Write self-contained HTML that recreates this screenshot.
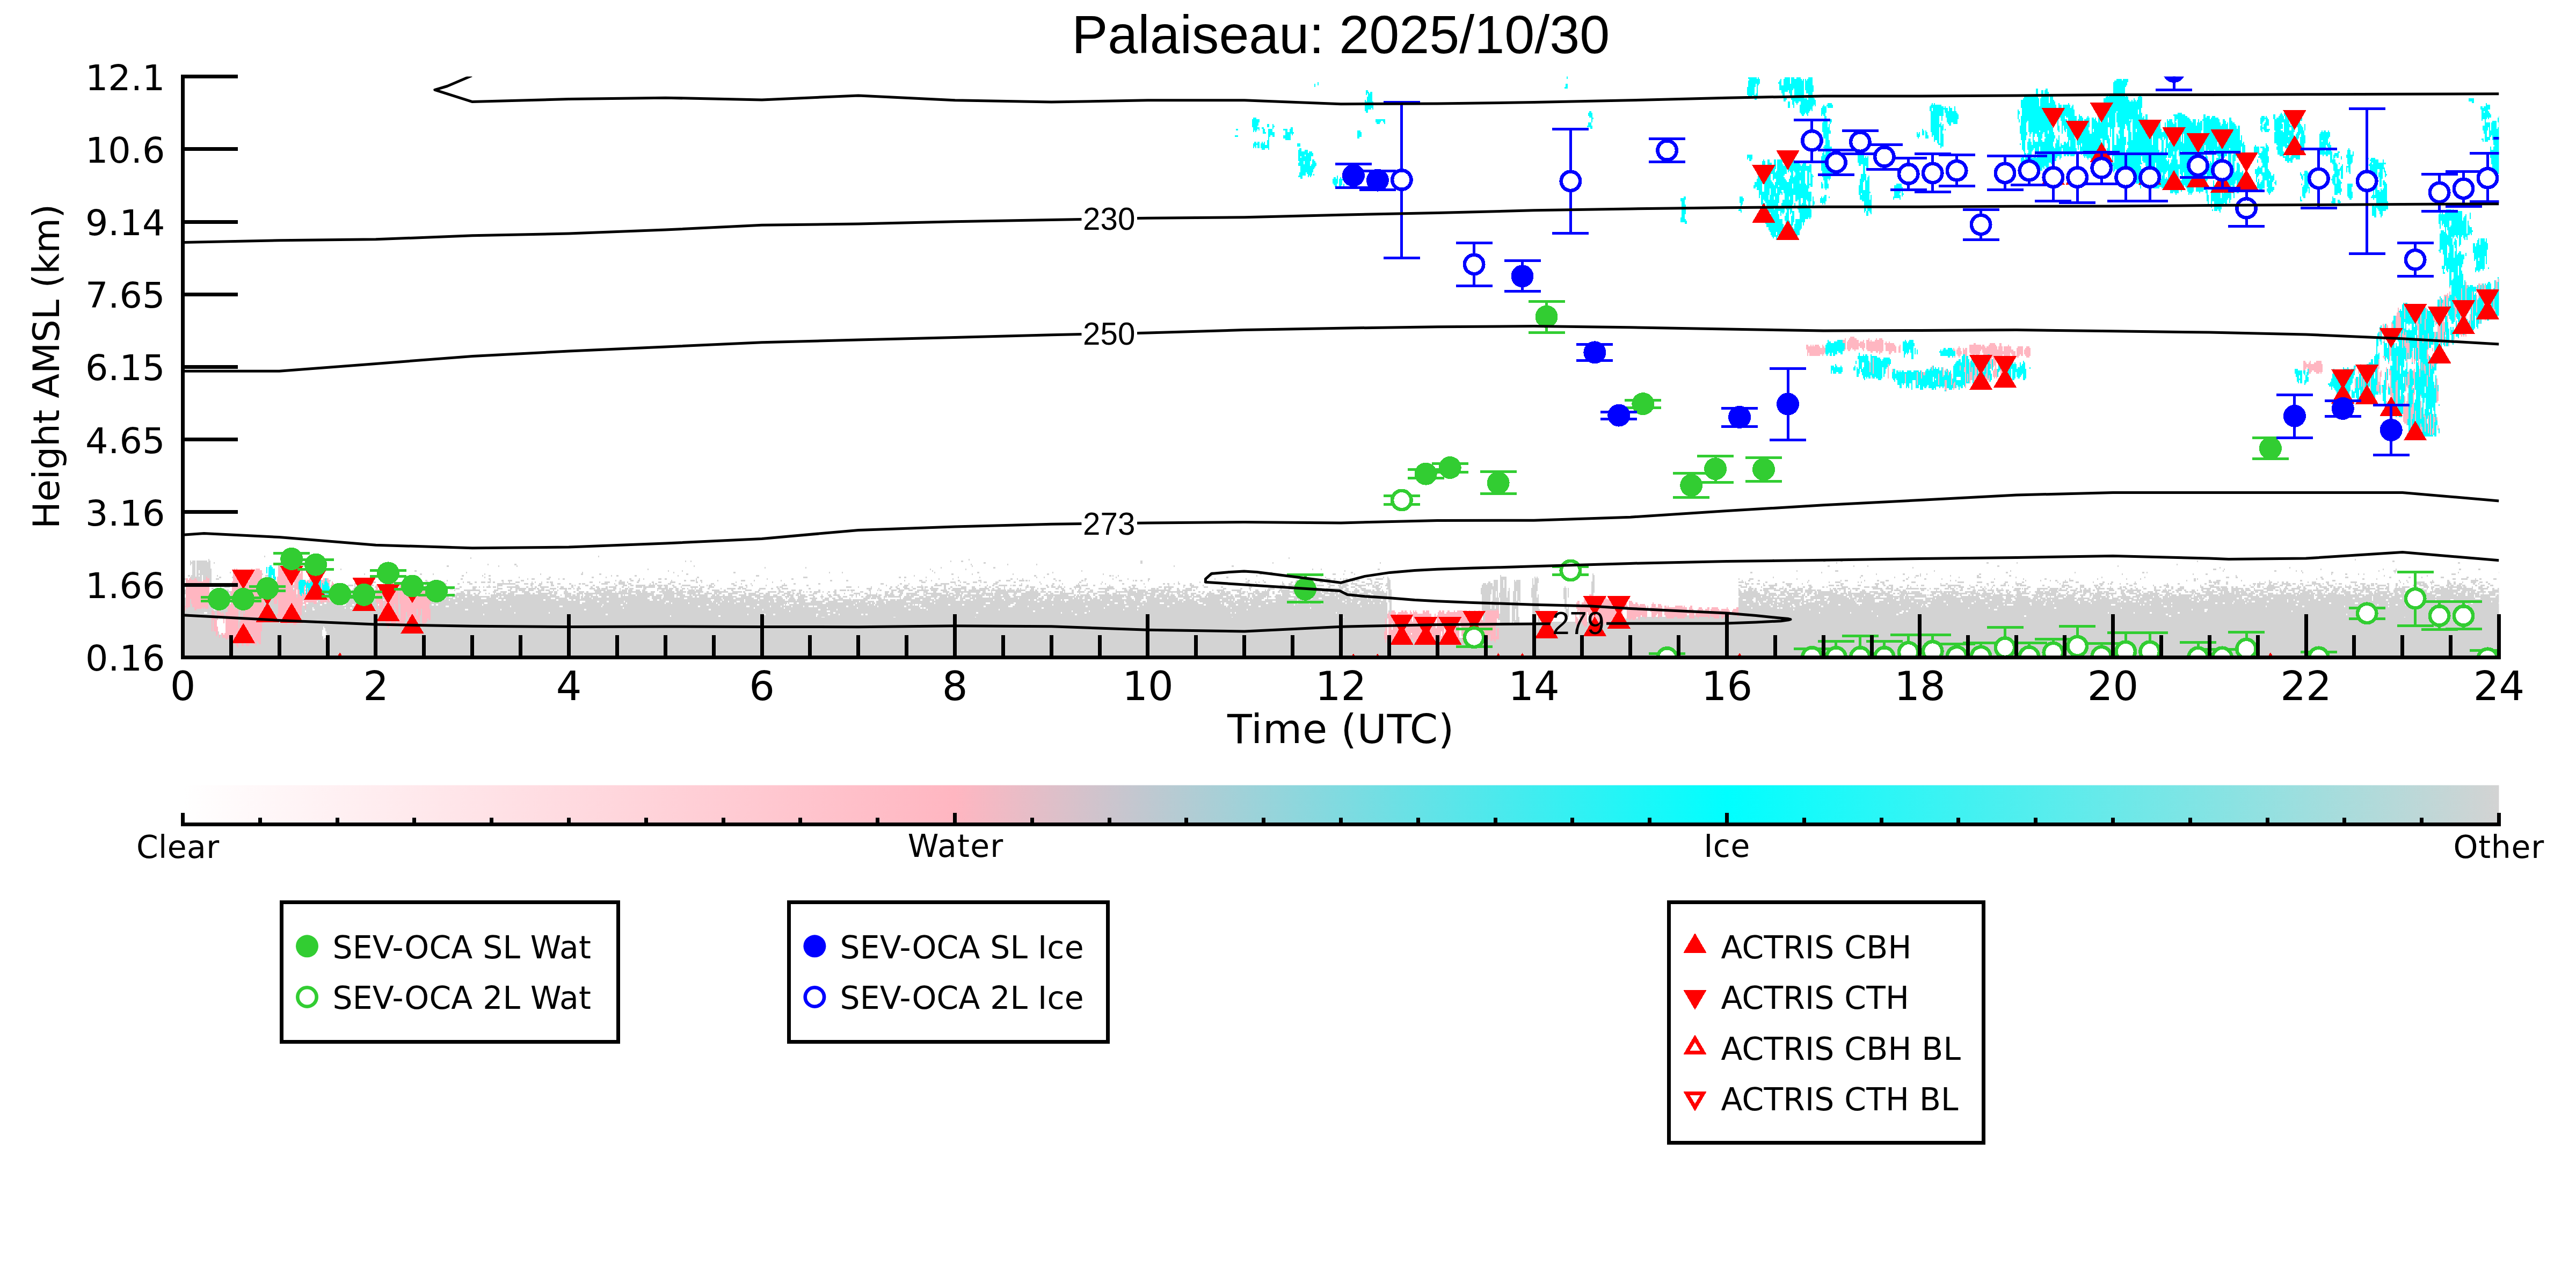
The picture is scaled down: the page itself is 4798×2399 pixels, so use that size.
<!DOCTYPE html>
<html lang="en"><head><meta charset="utf-8"><title>Palaiseau: 2025/10/30</title>
<style>html,body{margin:0;padding:0;background:#fff}svg{display:block}.dj{font-family:"DejaVu Sans","Liberation Sans",sans-serif}.lb{font-family:"Liberation Sans","DejaVu Sans",sans-serif}</style></head><body>
<svg width="4798" height="2399" viewBox="0 0 4798 2399">
<defs>
<clipPath id="ax"><rect x="340.5" y="142.5" width="4314" height="1082"/></clipPath>
<linearGradient id="cb" x1="0" x2="1" y1="0" y2="0"><stop offset="0" stop-color="#ffffff"/><stop offset="0.3333" stop-color="#ffb6c1"/><stop offset="0.6667" stop-color="#00ffff"/><stop offset="1" stop-color="#d3d3d3"/></linearGradient>

</defs>
<rect width="4798" height="2399" fill="#fff"/>
<g clip-path="url(#ax)" shape-rendering="crispEdges">
<path fill="#d3d3d3" d="M340 1150H2584V1222H340ZM3238 1150H4655V1222H3238Z"/>
<g transform="translate(340 142.5) scale(2 3)" fill="none" stroke-width="1">
<path stroke="#d3d3d3" d="M76 298h1m310 0h1M99 299h2m167 0h1m761 0h1M24 300h1m707 0h1m748 0h1m20 0h1m520 0h1M7 301h1m1 0h3m1 0h10m1 0h2m442 0h1m4 0h1m241 0h1m9 0h2m165 0h2m556 0h1m77 0h2m14 0h2m330 0h1m181 0h2M7 302h5m1 0h13m3 0h1m716 0h2m144 0h2m121 0h1m99 0h1m424 0h1m139 0h2m26 0h1m410 0h2M7 303h1m1 0h3m1 0h13m258 0h1m24 0h2m423 0h1m33 0h1m26 0h1m1061 0h1M9 304h3m1 0h13m220 0h2m46 0h1m16 0h1m164 0h1m258 0h1m187 0h1m53 0h2m553 0h2m22 0h1m12 0h1m120 0h2m110 0h1M9 305h3m1 0h13m516 0h1m37 0h1m125 0h1m48 0h2m854 0h1m285 0h1m64 0h1M9 306h3m1 0h14m120 0h1m285 0h1m262 0h1m32 0h1m322 0h1m7 0h1m52 0h2m776 0h3m7 0h1m89 0h1m57 0h1m11 0h1m58 0h2m16 0h2M9 307h3m1 0h2m1 0h11m167 0h1m21 0h2m234 0h1m12 0h1m232 0h1m138 0h1m244 0h1m420 0h1m35 0h3m89 0h1m70 0h1m197 0h1m47 0h2m18 0h1m4 0h1m71 0h1m13 0h3M9 308h3m1 0h2m1 0h11m17 0h1m17 0h1m66 0h1m134 0h1m107 0h1m84 0h1m55 0h2m87 0h1m11 0h1m85 0h1m39 0h2m68 0h1m147 0h2m53 0h2m73 0h2m370 0h2m64 0h1m171 0h2m62 0h1m62 0h2m2 0h1m144 0h1m26 0h2m57 0h1m58 0h1m37 0h1M9 309h3m1 0h14m47 0h1m94 0h1m24 0h1m26 0h2m10 0h1m47 0h1m51 0h1m37 0h2m15 0h2m79 0h2m245 0h2m17 0h1m37 0h1m31 0h2m50 0h1m145 0h2m66 0h3m7 0h1m9 0h1m221 0h1m263 0h1m24 0h2m14 0h1m5 0h1m48 0h2m131 0h1m65 0h1m11 0h2m115 0h1m12 0h2m10 0h1m4 0h1m81 0h4M5 310h2m1 0h4m1 0h2m1 0h2m1 0h8m5 0h1m44 0h3m45 0h2m133 0h2m17 0h1m5 0h2m112 0h1m4 0h2m15 0h2m38 0h1m72 0h3m144 0h1m111 0h2m68 0h2m1 0h1m4 0h1m86 0h1m41 0h1m59 0h1m41 0h1m124 0h1m85 0h2m248 0h2m49 0h3m1 0h1m27 0h1m24 0h2m28 0h2m209 0h1m137 0h1m39 0h1M7 311h11m1 0h3m1 0h4m7 0h2m10 0h1m6 0h1m227 0h1m31 0h1m27 0h2m38 0h2m11 0h1m84 0h2m97 0h4m85 0h2m3 0h2m18 0h1m29 0h1m19 0h1m52 0h1m6 0h1m66 0h1m102 0h2m90 0h1m53 0h1m3 0h1m104 0h6m26 0h1m1 0h1m51 0h2m166 0h1m80 0h1m31 0h1m12 0h1m5 0h1m40 0h1m16 0h4m32 0h1m79 0h1m39 0h1m75 0h3m6 0h2m77 0h2m21 0h3m38 0h2m16 0h2m10 0h1m17 0h3m21 0h2M0 312h3m5 0h3m2 0h5m1 0h3m3 0h2m4 0h3m18 0h2m25 0h1m129 0h2m48 0h2m24 0h2m34 0h1m3 0h3m11 0h3m8 0h1m3 0h2m60 0h2m7 0h1m3 0h1m13 0h3m3 0h2m27 0h1m65 0h1m22 0h2m135 0h1m12 0h1m53 0h2m4 0h1m4 0h1m28 0h2m27 0h2m24 0h1m13 0h1m18 0h2m60 0h1m28 0h1m74 0h4m3 0h2m4 0h1m2 0h1m1 0h2m2 0h1m15 0h4m4 0h7m4 0h2m103 0h6m24 0h1m1 0h4m50 0h2m134 0h1m9 0h4m40 0h1m101 0h2m15 0h2m14 0h1m48 0h1m26 0h1m19 0h2m21 0h1m25 0h1m26 0h1m12 0h1m49 0h2m1 0h1m110 0h1m4 0h2m36 0h2m11 0h1m70 0h3m5 0h6m7 0h1m3 0h2m11 0h3M14 313h4m7 0h2m76 0h1m33 0h1m24 0h1m32 0h1m24 0h2m4 0h2m18 0h1m39 0h1m10 0h2m4 0h4m8 0h3m85 0h1m3 0h2m8 0h3m4 0h2m29 0h1m11 0h2m4 0h4m1 0h1m3 0h2m14 0h1m21 0h4m8 0h1m24 0h1m45 0h2m13 0h2m52 0h1m13 0h3m3 0h1m4 0h1m24 0h2m17 0h3m16 0h2m5 0h4m8 0h5m1 0h2m1 0h1m24 0h1m2 0h2m19 0h2m1 0h1m31 0h3m10 0h1m1 0h2m3 0h2m5 0h1m92 0h2m12 0h1m30 0h2m16 0h2m15 0h1m8 0h1m7 0h3m1 0h3m10 0h2m14 0h3m96 0h4m2 0h3m1 0h2m7 0h1m1 0h4m11 0h1m1 0h4m50 0h2m137 0h1m5 0h2m7 0h2m45 0h1m29 0h1m3 0h3m15 0h1m11 0h2m6 0h3m13 0h2m42 0h1m4 0h1m64 0h1m13 0h1m8 0h1m4 0h2m7 0h1m3 0h4m105 0h1m6 0h2m12 0h2m5 0h4m19 0h1m25 0h1m28 0h2m28 0h3m59 0h1m6 0h1m23 0h1m13 0h2m20 0h7M25 314h2m48 0h5m94 0h6m16 0h1m22 0h5m3 0h2m1 0h2m6 0h1m4 0h1m17 0h1m3 0h3m4 0h2m4 0h4m2 0h3m2 0h2m7 0h1m5 0h1m5 0h4m11 0h1m2 0h1m5 0h1m4 0h2m1 0h3m34 0h3m6 0h1m4 0h5m8 0h6m2 0h1m8 0h2m12 0h2m4 0h3m8 0h5m19 0h2m3 0h1m31 0h1m33 0h1m138 0h4m23 0h5m4 0h1m2 0h3m6 0h4m3 0h1m2 0h3m8 0h3m14 0h2m22 0h1m36 0h2m19 0h1m70 0h1m19 0h1m3 0h2m37 0h3m6 0h1m2 0h1m4 0h2m15 0h1m7 0h2m2 0h5m18 0h3m18 0h3m6 0h1m8 0h3m6 0h1m2 0h4m8 0h3m91 0h2m3 0h4m2 0h3m1 0h2m7 0h6m11 0h1m1 0h4m49 0h3m134 0h5m1 0h1m18 0h2m14 0h2m21 0h1m19 0h1m5 0h5m16 0h1m2 0h1m17 0h4m25 0h4m39 0h6m12 0h5m8 0h3m10 0h3m7 0h1m5 0h2m31 0h1m4 0h5m7 0h3m13 0h1m8 0h2m6 0h2m20 0h1m68 0h3m1 0h6m6 0h2m29 0h1m4 0h1m3 0h3m5 0h1m3 0h2m2 0h2m18 0h1m3 0h4m9 0h3m20 0h6m40 0h1m6 0h1m7 0h8m5 0h4m12 0h3m3 0h2m6 0h1m7 0h5m3 0h3m3 0h2M26 315h1m13 0h1m36 0h2m81 0h3m7 0h7m12 0h1m4 0h1m6 0h2m13 0h1m10 0h3m5 0h2m3 0h2m2 0h2m10 0h2m9 0h3m23 0h17m8 0h4m2 0h3m5 0h3m8 0h2m4 0h3m8 0h2m7 0h2m1 0h3m15 0h6m6 0h1m3 0h6m3 0h3m17 0h1m2 0h1m1 0h2m10 0h3m7 0h2m28 0h3m16 0h3m6 0h1m8 0h1m30 0h1m8 0h2m21 0h2m56 0h3m15 0h2m6 0h1m24 0h2m3 0h8m5 0h1m10 0h3m22 0h4m22 0h1m17 0h1m10 0h2m7 0h1m14 0h1m7 0h1m12 0h1m3 0h1m15 0h2m18 0h1m17 0h2m2 0h2m4 0h1m3 0h2m9 0h2m52 0h2m6 0h1m23 0h2m4 0h3m7 0h5m4 0h2m3 0h2m10 0h3m9 0h7m3 0h6m8 0h6m2 0h1m3 0h4m3 0h4m86 0h3m1 0h5m1 0h4m2 0h3m1 0h2m7 0h6m11 0h1m1 0h3m50 0h3m140 0h4m2 0h2m3 0h3m3 0h1m10 0h2m8 0h6m9 0h1m35 0h3m29 0h4m3 0h2m52 0h1m4 0h2m36 0h2m14 0h2m9 0h6m35 0h1m2 0h1m33 0h4m4 0h1m1 0h2m7 0h1m5 0h2m5 0h3m28 0h1m9 0h2m23 0h2m7 0h2m1 0h2m6 0h2m23 0h3m1 0h7m4 0h2m2 0h4m4 0h8m2 0h3m4 0h3m8 0h8m2 0h1m3 0h2m6 0h1m2 0h3m12 0h1m4 0h5m5 0h3m1 0h2m9 0h2m6 0h2m5 0h1m10 0h6m1 0h4m4 0h1m14 0h4m2 0h2m3 0h3m10 0h2m3 0h1m8 0h2M2 316h1m23 0h2m3 0h2m9 0h2m31 0h5m23 0h1m37 0h1m10 0h1m1 0h5m1 0h1m8 0h9m23 0h1m24 0h1m4 0h3m7 0h2m42 0h1m7 0h5m12 0h3m11 0h2m5 0h3m9 0h3m16 0h2m1 0h1m9 0h3m4 0h2m19 0h2m5 0h4m3 0h3m2 0h9m3 0h6m2 0h5m1 0h4m4 0h2m7 0h8m8 0h1m6 0h1m1 0h3m2 0h1m17 0h3m8 0h2m4 0h1m12 0h1m14 0h5m18 0h2m72 0h1m10 0h1m5 0h4m12 0h1m11 0h7m2 0h2m9 0h1m1 0h3m17 0h1m6 0h1m4 0h2m4 0h8m3 0h1m1 0h3m3 0h3m4 0h2m16 0h2m3 0h2m5 0h1m15 0h4m1 0h6m5 0h2m13 0h1m20 0h4m30 0h1m13 0h2m4 0h4m8 0h1m51 0h3m17 0h5m3 0h6m1 0h3m3 0h5m3 0h2m3 0h7m5 0h5m3 0h3m1 0h6m6 0h10m2 0h1m3 0h2m1 0h4m5 0h5m85 0h10m1 0h4m2 0h3m1 0h2m7 0h6m11 0h5m50 0h3m134 0h3m4 0h1m15 0h2m3 0h8m9 0h4m16 0h3m16 0h5m2 0h3m1 0h2m14 0h3m14 0h2m5 0h2m3 0h4m13 0h2m7 0h1m3 0h3m15 0h5m2 0h12m8 0h1m5 0h2m9 0h1m4 0h2m5 0h5m2 0h1m7 0h2m1 0h6m15 0h2m16 0h7m10 0h4m9 0h4m2 0h2m25 0h3m19 0h1m9 0h5m29 0h1m7 0h5m27 0h2m4 0h1m3 0h1m2 0h3m7 0h6m5 0h3m3 0h5m6 0h1m3 0h1m2 0h6m2 0h1m3 0h3m6 0h5m11 0h1m3 0h1m4 0h3m4 0h2m2 0h3m1 0h3m3 0h8m2 0h1m6 0h2m14 0h2m4 0h8m6 0h5m6 0h3m1 0h3m3 0h4m1 0h3m9 0h2m3 0h4m5 0h3M35 317h1m3 0h5m32 0h11m16 0h1m40 0h2m6 0h1m7 0h3m9 0h3m4 0h1m2 0h1m47 0h3m3 0h3m19 0h2m10 0h4m2 0h1m3 0h1m2 0h4m2 0h3m1 0h1m8 0h12m6 0h2m3 0h1m2 0h2m3 0h8m8 0h1m2 0h3m7 0h2m4 0h2m10 0h2m3 0h3m6 0h2m1 0h7m5 0h2m4 0h1m6 0h6m1 0h11m3 0h3m3 0h3m5 0h3m4 0h1m8 0h7m2 0h4m4 0h5m23 0h4m3 0h1m27 0h2m1 0h3m59 0h5m6 0h1m11 0h1m17 0h2m3 0h2m5 0h4m4 0h1m4 0h6m1 0h3m3 0h2m10 0h2m4 0h2m8 0h5m5 0h3m9 0h2m2 0h2m4 0h3m5 0h1m19 0h3m1 0h5m11 0h2m2 0h4m2 0h4m2 0h1m8 0h7m24 0h6m14 0h2m2 0h2m9 0h1m12 0h3m2 0h9m9 0h1m6 0h7m5 0h4m12 0h2m24 0h3m17 0h1m2 0h1m5 0h2m6 0h3m10 0h2m3 0h2m17 0h2m8 0h7m4 0h4m3 0h3m10 0h6m2 0h1m5 0h3m85 0h15m2 0h3m1 0h2m7 0h6m11 0h5m25 0h1m24 0h3m136 0h6m2 0h2m9 0h1m7 0h4m8 0h1m5 0h2m6 0h1m4 0h2m4 0h3m9 0h2m2 0h1m13 0h6m15 0h5m2 0h6m8 0h2m2 0h2m6 0h3m4 0h1m2 0h1m34 0h3m3 0h1m3 0h5m6 0h4m5 0h2m2 0h1m6 0h1m18 0h1m13 0h3m16 0h2m11 0h3m3 0h4m7 0h4m10 0h2m1 0h2m9 0h1m8 0h2m1 0h3m8 0h1m6 0h1m10 0h2m3 0h2m4 0h3m2 0h2m6 0h4m15 0h3m6 0h9m1 0h6m4 0h2m2 0h2m12 0h3m3 0h3m2 0h1m3 0h12m5 0h2m9 0h4m2 0h2m10 0h1m2 0h7m3 0h2m1 0h2m2 0h4m3 0h6m6 0h2m2 0h4m1 0h2m6 0h3m6 0h3m6 0h1m2 0h1m2 0h7m4 0h4m5 0h5m2 0h3m5 0h4m3 0h14m1 0h3m5 0h1m5 0h4m4 0h2M27 318h2m3 0h3m1 0h3m36 0h12m55 0h4m3 0h2m8 0h3m6 0h5m13 0h1m44 0h1m4 0h4m3 0h3m3 0h3m2 0h4m12 0h3m20 0h5m7 0h2m3 0h10m2 0h7m1 0h2m2 0h3m5 0h6m3 0h7m1 0h3m2 0h1m2 0h4m8 0h5m2 0h3m1 0h6m5 0h3m3 0h1m4 0h3m1 0h4m9 0h3m10 0h10m1 0h4m2 0h3m3 0h3m2 0h1m3 0h1m2 0h1m3 0h3m5 0h2m10 0h1m5 0h8m2 0h3m1 0h4m12 0h6m5 0h2m4 0h2m2 0h6m19 0h2m52 0h5m6 0h1m9 0h2m5 0h3m4 0h5m3 0h3m5 0h2m1 0h1m4 0h8m5 0h2m2 0h2m2 0h13m5 0h4m3 0h9m3 0h2m3 0h3m3 0h1m4 0h2m5 0h2m1 0h1m4 0h1m4 0h3m3 0h1m2 0h5m9 0h3m2 0h3m5 0h2m3 0h1m3 0h2m4 0h4m8 0h15m7 0h4m3 0h8m12 0h4m1 0h2m5 0h2m2 0h3m5 0h2m6 0h6m4 0h1m24 0h3m13 0h2m6 0h2m16 0h6m5 0h2m6 0h4m4 0h3m3 0h8m1 0h5m1 0h2m4 0h16m2 0h3m6 0h2m3 0h5m9 0h5m5 0h4m84 0h16m2 0h6m2 0h1m4 0h6m10 0h6m24 0h3m1 0h1m21 0h3m134 0h1m8 0h5m1 0h2m6 0h12m3 0h4m1 0h2m5 0h3m2 0h5m5 0h3m17 0h1m2 0h3m1 0h8m2 0h2m2 0h7m12 0h9m3 0h7m3 0h2m7 0h12m1 0h6m3 0h1m3 0h5m5 0h4m1 0h4m2 0h1m3 0h2m4 0h3m3 0h1m7 0h2m1 0h1m4 0h1m4 0h2m3 0h1m11 0h6m1 0h1m1 0h4m8 0h10m2 0h8m1 0h2m4 0h2m7 0h2m2 0h1m3 0h2m2 0h2m5 0h8m2 0h6m4 0h4m3 0h2m3 0h2m3 0h2m5 0h3m7 0h2m8 0h1m5 0h2m4 0h6m16 0h9m5 0h4m1 0h6m3 0h11m2 0h4m4 0h1m8 0h11m4 0h1m3 0h4m3 0h8m3 0h3m9 0h2m5 0h5m4 0h6m2 0h2m4 0h2m2 0h5m4 0h12m2 0h6m1 0h4m5 0h10m10 0h1m2 0h4m3 0h1m3 0h2m2 0h4m1 0h7m1 0h3m4 0h15m5 0h9m4 0h2m3 0h2M2 319h1m26 0h4m4 0h6m21 0h1m11 0h3m4 0h1m19 0h1m10 0h1m29 0h2m3 0h6m3 0h2m4 0h7m1 0h3m4 0h1m2 0h1m3 0h3m12 0h1m23 0h1m1 0h2m3 0h2m1 0h5m3 0h4m6 0h1m8 0h15m3 0h3m7 0h4m9 0h3m4 0h2m1 0h6m3 0h5m4 0h6m1 0h4m3 0h1m3 0h1m6 0h2m9 0h2m14 0h11m1 0h8m4 0h1m1 0h5m1 0h4m3 0h4m2 0h3m11 0h1m3 0h3m1 0h6m3 0h3m1 0h3m5 0h6m1 0h6m9 0h7m4 0h2m5 0h2m11 0h6m6 0h2m17 0h2m10 0h4m3 0h3m15 0h2m13 0h2m3 0h6m1 0h2m1 0h4m13 0h2m6 0h1m1 0h2m9 0h5m2 0h5m4 0h4m4 0h11m2 0h6m3 0h6m4 0h9m3 0h2m2 0h16m2 0h2m1 0h14m1 0h7m1 0h9m4 0h4m1 0h2m4 0h2m17 0h3m6 0h2m4 0h2m4 0h1m4 0h3m11 0h4m6 0h1m7 0h3m1 0h4m4 0h8m2 0h21m6 0h3m2 0h9m1 0h2m16 0h1m3 0h7m7 0h9m8 0h1m4 0h3m6 0h1m1 0h3m8 0h10m3 0h2m12 0h2m1 0h7m4 0h5m10 0h3m2 0h4m5 0h5m2 0h9m1 0h2m2 0h3m2 0h1m5 0h3m83 0h10m1 0h5m2 0h6m2 0h1m4 0h6m10 0h6m24 0h3m1 0h1m21 0h3m134 0h2m3 0h2m2 0h4m1 0h3m3 0h2m1 0h5m5 0h6m3 0h3m2 0h13m2 0h10m1 0h4m8 0h3m1 0h3m2 0h1m3 0h2m4 0h1m4 0h2m4 0h3m14 0h3m7 0h2m1 0h6m2 0h3m14 0h3m3 0h1m7 0h1m3 0h1m10 0h3m4 0h3m9 0h3m2 0h7m2 0h6m2 0h7m2 0h3m4 0h6m4 0h2m10 0h3m3 0h1m4 0h8m1 0h8m3 0h6m3 0h2m1 0h7m2 0h2m2 0h2m9 0h5m6 0h4m2 0h13m12 0h6m2 0h4m1 0h3m4 0h6m2 0h2m5 0h3m2 0h1m3 0h2m3 0h3m2 0h2m3 0h10m3 0h7m2 0h3m1 0h5m3 0h9m3 0h6m2 0h3m1 0h2m1 0h3m2 0h6m4 0h6m2 0h4m1 0h10m2 0h3m3 0h6m3 0h4m7 0h10m1 0h4m5 0h4m7 0h2m4 0h11m4 0h16m5 0h1m1 0h24m2 0h13m4 0h3m8 0h7M2 320h1m25 0h4m3 0h10m19 0h1m10 0h3m3 0h3m53 0h1m7 0h7m2 0h2m4 0h1m3 0h3m8 0h1m10 0h3m12 0h1m26 0h1m5 0h7m3 0h3m12 0h3m3 0h3m8 0h2m11 0h3m4 0h6m3 0h7m4 0h7m6 0h5m7 0h4m1 0h3m6 0h4m5 0h2m3 0h5m2 0h2m6 0h6m2 0h8m3 0h1m2 0h8m1 0h12m1 0h5m3 0h4m4 0h14m2 0h9m1 0h15m3 0h2m5 0h13m4 0h9m1 0h2m9 0h4m8 0h8m2 0h5m3 0h4m1 0h1m5 0h2m2 0h1m2 0h1m2 0h2m2 0h6m2 0h1m4 0h2m3 0h3m14 0h1m7 0h3m6 0h1m13 0h4m2 0h2m4 0h5m11 0h4m4 0h4m5 0h3m6 0h6m5 0h24m2 0h3m5 0h1m3 0h24m4 0h12m2 0h5m2 0h3m3 0h4m1 0h3m1 0h1m6 0h2m3 0h7m3 0h5m4 0h9m8 0h19m1 0h10m3 0h7m2 0h4m2 0h15m1 0h3m10 0h2m2 0h2m4 0h2m6 0h2m1 0h4m1 0h4m6 0h4m1 0h3m1 0h1m5 0h6m2 0h7m3 0h2m3 0h2m1 0h13m2 0h22m1 0h6m2 0h3m1 0h3m7 0h5m1 0h7m4 0h19m2 0h1m1 0h3m83 0h10m1 0h3m1 0h1m2 0h6m1 0h2m3 0h3m1 0h3m10 0h5m25 0h3m1 0h1m21 0h3m134 0h3m2 0h13m6 0h5m10 0h8m5 0h3m3 0h2m2 0h7m2 0h2m1 0h14m2 0h3m5 0h2m2 0h3m8 0h6m3 0h8m3 0h4m2 0h4m7 0h7m1 0h1m2 0h8m10 0h11m1 0h14m6 0h10m1 0h1m5 0h3m5 0h2m3 0h3m5 0h2m1 0h2m5 0h4m1 0h4m3 0h1m4 0h8m1 0h5m1 0h7m8 0h2m4 0h2m1 0h5m1 0h7m6 0h5m1 0h5m6 0h1m4 0h3m2 0h7m3 0h3m2 0h1m4 0h5m2 0h2m4 0h7m3 0h2m2 0h2m6 0h3m1 0h6m6 0h14m3 0h2m1 0h5m2 0h3m1 0h10m4 0h3m1 0h3m2 0h7m11 0h6m6 0h2m3 0h2m2 0h10m4 0h4m3 0h2m4 0h2m1 0h3m3 0h9m2 0h3m4 0h3m2 0h6m2 0h2m1 0h12m3 0h4m2 0h6m2 0h4m1 0h12m3 0h26m3 0h5m1 0h2m1 0h4m2 0h8m2 0h11M2 321h1m22 0h3m1 0h5m2 0h2m3 0h2m1 0h1m19 0h1m10 0h9m53 0h1m5 0h3m4 0h9m1 0h1m1 0h3m3 0h2m1 0h2m1 0h6m6 0h3m12 0h1m29 0h10m1 0h2m11 0h8m2 0h3m3 0h2m2 0h2m5 0h1m2 0h1m4 0h1m1 0h5m1 0h3m2 0h6m9 0h6m2 0h2m3 0h13m2 0h3m6 0h7m5 0h6m1 0h44m4 0h17m8 0h19m4 0h8m2 0h2m4 0h7m2 0h3m1 0h3m6 0h9m6 0h2m2 0h7m3 0h4m2 0h4m7 0h2m4 0h6m2 0h2m2 0h4m11 0h4m9 0h1m6 0h2m7 0h1m8 0h6m4 0h3m2 0h1m5 0h1m7 0h3m2 0h3m6 0h3m3 0h10m6 0h1m1 0h15m4 0h2m1 0h4m2 0h4m1 0h2m4 0h3m5 0h3m2 0h11m1 0h13m5 0h3m4 0h18m5 0h2m2 0h3m6 0h13m5 0h1m6 0h2m4 0h4m7 0h4m3 0h4m2 0h1m7 0h15m1 0h10m3 0h5m2 0h3m2 0h1m4 0h3m2 0h5m3 0h5m5 0h2m3 0h7m5 0h10m8 0h5m3 0h6m1 0h13m3 0h2m7 0h7m3 0h3m2 0h3m1 0h7m2 0h9m2 0h13m1 0h8m2 0h7m2 0h8m3 0h15m1 0h3m83 0h10m1 0h3m1 0h1m1 0h7m1 0h2m3 0h3m1 0h3m10 0h5m25 0h3m1 0h1m21 0h2m135 0h20m4 0h3m1 0h7m4 0h4m2 0h13m3 0h1m2 0h4m2 0h3m1 0h18m3 0h6m1 0h21m3 0h15m3 0h2m2 0h2m1 0h20m9 0h4m4 0h6m1 0h2m1 0h15m3 0h9m2 0h10m1 0h1m4 0h3m4 0h3m6 0h12m6 0h19m2 0h2m5 0h2m4 0h5m5 0h3m3 0h4m1 0h9m1 0h10m4 0h4m4 0h7m2 0h2m2 0h5m1 0h9m6 0h6m6 0h2m10 0h2m1 0h5m5 0h7m5 0h4m1 0h10m1 0h4m1 0h6m1 0h6m4 0h4m4 0h5m3 0h1m3 0h3m2 0h5m2 0h5m1 0h9m1 0h4m2 0h5m1 0h1m3 0h8m2 0h1m4 0h6m4 0h2m1 0h3m7 0h4m1 0h12m2 0h4m1 0h4m2 0h3m7 0h3m2 0h14m3 0h17m2 0h9m2 0h11m3 0h1m5 0h6m3 0h1M25 322h2m2 0h16m19 0h1m11 0h1m2 0h5m22 0h1m30 0h1m7 0h2m8 0h6m3 0h4m2 0h4m12 0h3m12 0h1m33 0h1m2 0h32m2 0h4m11 0h22m1 0h30m2 0h6m4 0h1m3 0h6m1 0h3m1 0h3m2 0h1m2 0h7m3 0h1m2 0h18m2 0h2m1 0h1m3 0h7m1 0h16m2 0h6m1 0h10m2 0h8m4 0h2m1 0h14m4 0h3m1 0h3m3 0h2m3 0h4m6 0h7m2 0h11m3 0h6m3 0h4m4 0h3m2 0h6m2 0h3m1 0h5m3 0h5m7 0h1m5 0h3m2 0h6m9 0h4m2 0h1m2 0h1m6 0h10m1 0h3m3 0h9m4 0h3m4 0h3m1 0h8m4 0h3m4 0h18m2 0h9m2 0h19m1 0h7m1 0h6m2 0h6m3 0h3m5 0h18m3 0h23m5 0h2m1 0h2m1 0h9m3 0h2m3 0h12m1 0h13m1 0h18m3 0h5m1 0h12m1 0h4m3 0h5m1 0h4m2 0h3m2 0h4m5 0h21m2 0h2m2 0h6m6 0h2m2 0h3m2 0h11m6 0h5m1 0h8m5 0h9m1 0h17m4 0h5m1 0h32m3 0h13m1 0h3m84 0h8m2 0h3m1 0h1m1 0h7m1 0h2m3 0h3m1 0h3m10 0h5m1 0h1m23 0h3m1 0h1m22 0h1m135 0h26m2 0h8m1 0h7m2 0h4m1 0h5m3 0h3m2 0h2m5 0h27m2 0h6m1 0h10m1 0h9m3 0h5m1 0h8m6 0h5m1 0h2m6 0h11m1 0h1m1 0h4m3 0h2m2 0h11m2 0h3m1 0h2m6 0h2m1 0h2m2 0h14m2 0h19m2 0h6m9 0h6m1 0h4m2 0h10m1 0h8m1 0h8m4 0h5m4 0h2m1 0h8m4 0h3m2 0h2m8 0h4m9 0h21m1 0h3m2 0h5m1 0h5m2 0h13m1 0h1m2 0h20m1 0h31m3 0h2m1 0h7m1 0h26m1 0h16m1 0h27m1 0h18m1 0h14m2 0h9m2 0h12m3 0h11m3 0h10m4 0h15m1 0h7m2 0h6m1 0h4m1 0h14m1 0h3M25 323h6m1 0h13m19 0h1m14 0h5m22 0h1m35 0h14m2 0h21m7 0h3m12 0h1m30 0h3m1 0h12m3 0h5m1 0h6m2 0h21m1 0h7m1 0h2m2 0h52m5 0h14m1 0h2m1 0h5m1 0h7m3 0h5m2 0h9m2 0h27m2 0h9m2 0h10m2 0h1m2 0h12m2 0h2m2 0h8m3 0h24m4 0h10m3 0h25m3 0h4m1 0h3m4 0h9m5 0h2m5 0h3m5 0h3m5 0h3m2 0h4m4 0h1m3 0h1m4 0h2m2 0h5m1 0h8m3 0h3m1 0h12m3 0h9m5 0h4m2 0h11m2 0h7m1 0h6m1 0h3m1 0h2m1 0h7m1 0h10m6 0h1m2 0h17m3 0h23m3 0h2m3 0h6m1 0h19m1 0h7m1 0h6m4 0h2m2 0h23m1 0h5m3 0h9m2 0h8m2 0h18m2 0h13m1 0h8m3 0h2m1 0h14m3 0h7m1 0h11m1 0h2m2 0h13m1 0h4m3 0h21m2 0h3m3 0h41m2 0h4m4 0h9m1 0h15m1 0h3m84 0h8m2 0h3m1 0h1m1 0h7m1 0h2m3 0h3m1 0h3m10 0h5m1 0h1m23 0h3m1 0h1m22 0h1m136 0h20m1 0h8m1 0h2m3 0h2m6 0h17m1 0h2m3 0h13m4 0h17m2 0h3m2 0h18m2 0h4m6 0h16m1 0h20m6 0h22m4 0h17m2 0h4m1 0h15m3 0h9m1 0h11m5 0h8m3 0h2m2 0h1m3 0h9m2 0h8m6 0h2m6 0h1m2 0h12m1 0h3m2 0h1m4 0h12m2 0h7m2 0h10m1 0h5m3 0h5m1 0h21m2 0h8m1 0h3m2 0h31m5 0h11m3 0h48m3 0h6m2 0h31m3 0h9m1 0h15m2 0h14m1 0h7m1 0h5m2 0h11m1 0h35m1 0h14m5 0h4M1 324h2m22 0h12m1 0h7m3 0h1m15 0h1m13 0h6m28 0h1m13 0h1m16 0h5m1 0h12m1 0h10m7 0h1m6 0h2m4 0h1m8 0h1m29 0h11m3 0h7m2 0h24m5 0h9m2 0h49m4 0h11m2 0h10m1 0h10m1 0h51m4 0h9m1 0h20m3 0h32m1 0h10m2 0h17m3 0h3m3 0h9m3 0h6m3 0h1m2 0h5m3 0h6m5 0h7m4 0h1m2 0h4m3 0h3m3 0h4m6 0h1m12 0h6m1 0h5m1 0h4m2 0h1m14 0h1m2 0h8m3 0h15m3 0h2m2 0h18m2 0h5m4 0h5m1 0h24m2 0h13m1 0h17m1 0h5m3 0h5m1 0h18m1 0h4m1 0h3m2 0h7m1 0h4m2 0h21m4 0h5m3 0h8m2 0h13m2 0h5m1 0h9m5 0h6m2 0h2m5 0h33m5 0h8m1 0h2m1 0h10m3 0h1m7 0h12m5 0h5m1 0h8m1 0h1m1 0h6m3 0h15m1 0h11m2 0h13m1 0h18m1 0h3m84 0h8m2 0h6m1 0h9m3 0h3m1 0h3m11 0h6m23 0h3m160 0h14m2 0h36m6 0h3m6 0h15m1 0h20m1 0h6m2 0h3m1 0h28m1 0h4m1 0h4m1 0h4m1 0h4m10 0h9m1 0h41m4 0h18m2 0h5m3 0h15m2 0h5m2 0h5m1 0h11m4 0h13m1 0h11m2 0h8m1 0h7m3 0h6m2 0h12m3 0h2m1 0h20m1 0h25m1 0h7m1 0h5m4 0h26m2 0h3m2 0h4m2 0h19m2 0h38m2 0h34m2 0h16m1 0h25m2 0h7m1 0h3m1 0h56m5 0h18M0 325h3m4 0h1m23 0h8m1 0h3m1 0h1m3 0h1m15 0h1m11 0h9m3 0h1m23 0h1m13 0h2m15 0h5m2 0h20m2 0h8m6 0h1m5 0h1m8 0h1m29 0h3m1 0h4m1 0h8m1 0h11m1 0h33m3 0h2m2 0h35m2 0h10m2 0h9m3 0h2m2 0h69m3 0h4m2 0h48m3 0h8m1 0h19m1 0h12m1 0h14m1 0h9m3 0h7m1 0h10m4 0h4m6 0h6m4 0h17m1 0h14m10 0h9m2 0h5m1 0h22m2 0h11m1 0h19m4 0h3m2 0h5m2 0h19m1 0h9m1 0h22m1 0h4m2 0h6m2 0h6m2 0h7m1 0h2m4 0h18m2 0h10m1 0h8m2 0h20m1 0h6m5 0h29m1 0h4m2 0h8m2 0h22m2 0h6m1 0h2m1 0h2m2 0h23m3 0h30m1 0h44m1 0h23m1 0h8m2 0h3m2 0h3m84 0h8m2 0h6m1 0h9m3 0h3m1 0h3m11 0h6m24 0h2m160 0h4m3 0h6m3 0h10m1 0h5m2 0h2m2 0h3m1 0h19m2 0h7m2 0h1m3 0h4m2 0h26m1 0h1m1 0h16m8 0h12m3 0h22m2 0h5m1 0h27m1 0h26m2 0h19m3 0h19m1 0h4m1 0h8m1 0h21m2 0h7m3 0h6m2 0h23m2 0h6m2 0h17m2 0h37m2 0h5m1 0h3m2 0h1m1 0h34m1 0h39m1 0h5m1 0h13m1 0h8m2 0h48m1 0h12m2 0h29m1 0h3m1 0h10m1 0h13m3 0h43M0 326h3m4 0h1m16 0h7m1 0h11m5 0h1m15 0h1m11 0h1m1 0h7m3 0h1m37 0h2m6 0h1m2 0h2m2 0h10m1 0h17m2 0h9m7 0h1m13 0h1m29 0h39m1 0h99m5 0h11m2 0h7m2 0h14m1 0h38m3 0h40m1 0h7m1 0h6m1 0h7m3 0h4m1 0h22m1 0h4m2 0h27m5 0h13m3 0h9m5 0h15m1 0h5m2 0h6m2 0h7m2 0h19m4 0h18m2 0h98m2 0h24m1 0h16m1 0h37m1 0h14m2 0h3m1 0h33m1 0h13m2 0h32m1 0h9m1 0h2m2 0h21m3 0h62m2 0h6m1 0h6m2 0h24m2 0h3m84 0h8m1 0h7m1 0h9m3 0h5m1 0h1m11 0h6m24 0h2m160 0h14m2 0h2m1 0h4m3 0h10m3 0h7m2 0h10m1 0h6m2 0h1m3 0h12m2 0h24m1 0h17m4 0h30m2 0h28m2 0h14m2 0h11m1 0h25m2 0h6m1 0h31m1 0h29m2 0h8m2 0h25m1 0h1m1 0h3m2 0h6m3 0h2m1 0h5m2 0h47m2 0h32m1 0h12m1 0h3m3 0h11m2 0h17m1 0h8m2 0h179m1 0h7M0 327h3m4 0h1m16 0h19m5 0h1m15 0h1m11 0h9m3 0h1m23 0h1m4 0h5m3 0h4m1 0h2m2 0h34m4 0h9m1 0h1m4 0h1m13 0h1m29 0h23m2 0h25m3 0h86m2 0h41m1 0h35m1 0h5m1 0h15m1 0h25m1 0h16m1 0h48m1 0h1m4 0h3m2 0h22m3 0h28m1 0h13m1 0h3m1 0h8m1 0h45m1 0h47m4 0h22m2 0h92m3 0h6m2 0h31m4 0h8m2 0h22m4 0h17m1 0h2m2 0h37m2 0h27m1 0h10m1 0h10m2 0h21m1 0h10m2 0h8m1 0h4m1 0h5m1 0h6m2 0h2m84 0h8m1 0h7m1 0h9m2 0h6m13 0h6m24 0h2m160 0h19m1 0h12m1 0h8m1 0h15m1 0h3m2 0h20m1 0h26m5 0h24m1 0h26m1 0h9m3 0h38m2 0h11m2 0h39m2 0h12m1 0h7m1 0h23m1 0h10m1 0h65m1 0h8m1 0h40m2 0h5m2 0h7m1 0h11m1 0h77m2 0h22m3 0h6m3 0h19m1 0h76m2 0h24M0 328h3m4 0h2m15 0h19m1 0h1m3 0h1m4 0h1m22 0h13m26 0h13m2 0h19m3 0h6m2 0h21m6 0h1m9 0h1m3 0h2m27 0h2m2 0h2m2 0h41m1 0h111m1 0h16m2 0h78m2 0h9m1 0h35m2 0h23m1 0h1m3 0h60m1 0h12m1 0h5m1 0h31m1 0h3m1 0h1m3 0h1m2 0h25m2 0h11m2 0h43m4 0h35m1 0h50m2 0h31m1 0h56m2 0h17m4 0h7m2 0h10m2 0h40m1 0h86m2 0h2m84 0h8m1 0h7m1 0h9m2 0h6m13 0h6m24 0h2m160 0h8m2 0h9m2 0h8m1 0h6m1 0h13m2 0h5m2 0h16m1 0h17m2 0h17m1 0h37m1 0h20m1 0h2m2 0h18m1 0h52m1 0h2m6 0h16m1 0h11m2 0h61m4 0h23m1 0h2m1 0h5m1 0h135m2 0h74m1 0h16m2 0h7m1 0h56m1 0h30M0 329h2m5 0h2m15 0h13m2 0h3m6 0h1m4 0h1m22 0h13m22 0h3m1 0h66m1 0h1m4 0h1m9 0h1m3 0h2m27 0h15m3 0h57m1 0h45m3 0h36m1 0h89m2 0h43m3 0h19m1 0h9m1 0h9m1 0h10m1 0h4m4 0h1m3 0h27m2 0h27m1 0h24m2 0h12m1 0h59m2 0h21m4 0h14m1 0h53m2 0h35m3 0h8m2 0h26m2 0h53m1 0h29m2 0h93m1 0h24m2 0h2m84 0h8m1 0h3m1 0h3m1 0h9m2 0h6m13 0h6m24 0h2m1 0h1m158 0h30m2 0h16m1 0h2m2 0h24m2 0h91m1 0h4m2 0h64m1 0h154m3 0h4m1 0h87m1 0h33m2 0h37m1 0h40m1 0h103M0 330h2m1 0h1m1 0h6m7 0h1m1 0h1m3 0h18m6 0h1m4 0h1m22 0h13m22 0h3m1 0h6m1 0h29m1 0h4m2 0h4m1 0h18m1 0h1m14 0h1m3 0h2m27 0h180m1 0h121m1 0h27m1 0h39m1 0h27m1 0h58m2 0h1m2 0h108m2 0h56m1 0h117m1 0h73m1 0h71m2 0h2m84 0h8m1 0h3m1 0h3m1 0h9m2 0h6m13 0h6m24 0h2m1 0h1m158 0h12m1 0h23m2 0h1m2 0h118m1 0h54m1 0h18m1 0h60m2 0h60m1 0h268m3 0h81M0 331h2m1 0h8m2 0h16m2 0h11m11 0h1m3 0h1m18 0h13m22 0h10m2 0h62m12 0h2m2 0h2m15 0h1m3 0h1m8 0h32m3 0h30m1 0h77m2 0h114m2 0h48m1 0h51m2 0h15m1 0h66m2 0h15m1 0h66m1 0h115m1 0h12m1 0h101m1 0h130m2 0h2m84 0h14m1 0h1m1 0h9m2 0h3m1 0h2m13 0h7m24 0h3m158 0h51m1 0h14m1 0h171m3 0h181m1 0h11m3 0h139m2 0h131M0 332h27m2 0h3m2 0h8m10 0h2m1 0h1m1 0h1m18 0h13m22 0h3m1 0h70m8 0h1m3 0h2m2 0h2m15 0h1m3 0h1m8 0h334m1 0h34m3 0h189m2 0h34m1 0h15m1 0h277m1 0h3m85 0h3m13 0h9m2 0h3m1 0h2m13 0h7m24 0h3m158 0h124m1 0h27m2 0h2m2 0h276m2 0h79m1 0h193M0 333h20m3 0h4m3 0h2m4 0h1m1 0h2m12 0h2m1 0h1m1 0h1m18 0h13m9 0h1m12 0h74m8 0h1m3 0h2m2 0h2m5 0h1m9 0h1m3 0h1m8 0h78m1 0h31m1 0h264m2 0h131m2 0h77m1 0h21m2 0h134m1 0h3m1 0h93m1 0h47m2 0h1m86 0h2m14 0h9m2 0h3m1 0h2m13 0h7m24 0h3m158 0h75m1 0h28m1 0h45m3 0h191m1 0h23m1 0h14m2 0h24m2 0h263m1 0h34M0 334h27m3 0h2m7 0h1m12 0h2m1 0h1m20 0h12m10 0h1m8 0h2m2 0h74m8 0h1m3 0h1m3 0h2m5 0h1m9 0h1m3 0h1m8 0h49m1 0h113m2 0h130m1 0h14m2 0h7m2 0h38m2 0h9m2 0h8m1 0h20m2 0h2m2 0h193m2 0h289m2 0h1m86 0h2m13 0h10m2 0h3m1 0h2m13 0h7m24 0h3m150 0h3m2 0h1m2 0h147m2 0h249m2 0h166m1 0h142M0 335h27m3 0h2m7 0h1m12 0h2m1 0h1m20 0h12m10 0h1m8 0h2m1 0h75m8 0h1m3 0h1m1 0h1m2 0h1m5 0h1m12 0h2m8 0h223m1 0h44m2 0h89m1 0h531m89 0h2m13 0h10m2 0h3m1 0h2m13 0h4m1 0h2m24 0h3m110 0h2m5 0h1m13 0h1m8 0h2m5 0h2m1 0h7m1 0h129m1 0h136m2 0h133m2 0h173m1 0h132M0 336h27m3 0h2m20 0h2m22 0h12m10 0h1m8 0h2m1 0h75m8 0h1m3 0h1m1 0h1m2 0h1m5 0h2m11 0h2m8 0h364m3 0h64m2 0h74m1 0h238m1 0h103m1 0h40m89 0h2m13 0h10m2 0h3m1 0h3m12 0h4m1 0h2m24 0h1m66 0h1m1 0h5m1 0h6m1 0h4m1 0h7m7 0h3m7 0h4m5 0h3m1 0h9m1 0h4m5 0h2m2 0h634m1 0h88M1211 337h2m12 0h11m2 0h3m1 0h3m12 0h4m1 0h2m24 0h1m52 0h6m2 0h1m3 0h3m1 0h92M1211 338h2m14 0h9m2 0h7m12 0h4m1 0h2m65 0h1m3 0h1m1 0h3m3 0h108M1227 339h9m2 0h1m1 0h5m12 0h40m4 0h2m5 0h3m4 0h3m2 0h3m6 0h1m3 0h116M1223 340h75m3 0h3m4 0h3m2 0h1m1 0h4m1 0h3m1 0h125M1223 341h75m2 0h5m3 0h4m1 0h136M1223 342h226M1223 343h1m2 0h223M1223 344h1m2 0h223M1223 345h1m2 0h223M1223 346h1m2 0h223M1217 347h1m5 0h1m2 0h223M1217 348h1m8 0h223M1122 349h1m22 0h1m17 0h2m7 0h1m2 0h1m3 0h1m9 0h3m10 0h1m14 0h1m8 0h223M1122 350h2m2 0h1m6 0h1m10 0h2m17 0h2m5 0h3m1 0h3m1 0h2m3 0h1m3 0h1m1 0h3m10 0h1m2 0h1m2 0h1m2 0h7m2 0h1m2 0h226M1122 351h2m1 0h2m3 0h4m10 0h3m1 0h4m2 0h1m2 0h10m2 0h23m3 0h1m2 0h24m1 0h226M1122 352h327M1122 353h327M1122 354h327M1122 355h327M1122 356h327M1122 357h327M1122 358h327M1122 359h327"/>
<path stroke="#fff" d="M33 336h5m1 0h1M33 337h5m1 0h1M32 338h6m1 0h1M32 339h6m1 0h1M32 340h8M32 341h8M33 342h7m91 0h1M33 343h7m91 0h2M33 344h7m90 0h3M34 345h6m90 0h4M34 346h2m2 0h1m91 0h4M130 347h5M131 348h3M131 349h1"/>
<path stroke="#ffb6c1" d="M2156 126h1M2154 127h1m1 0h1M2126 128h1m27 0h2M2126 129h1m11 0h2m1 0h1m12 0h2M2126 130h2m10 0h2m1 0h1m1 0h2m9 0h2M2111 131h1m14 0h2m8 0h1m1 0h2m1 0h1m1 0h2m9 0h2M2122 132h1m3 0h1m9 0h1m1 0h1m2 0h1m1 0h2m9 0h2M2122 133h1m3 0h1m9 0h1m1 0h1m4 0h2m10 0h1M2111 134h1m10 0h1m3 0h1m5 0h1m3 0h1m1 0h1m4 0h2M2109 135h1m1 0h1m10 0h1m3 0h1m5 0h1m5 0h1m4 0h2m2 0h1M2106 136h4m12 0h1m3 0h1m5 0h1m3 0h1m1 0h1m4 0h2m2 0h1M2106 137h1m1 0h3m5 0h1m5 0h1m3 0h1m5 0h1m3 0h1m1 0h1m4 0h2m2 0h1M2102 138h1m3 0h1m1 0h2m6 0h2m4 0h1m3 0h1m5 0h1m3 0h1m6 0h2m7 0h1M2102 139h1m2 0h2m1 0h2m6 0h2m4 0h1m3 0h1m5 0h1m3 0h1m6 0h2m7 0h1M2102 140h1m2 0h2m1 0h2m5 0h3m4 0h1m3 0h1m5 0h1m3 0h1m6 0h2m7 0h1M2069 141h1m32 0h1m1 0h3m1 0h2m5 0h3m4 0h1m3 0h1m5 0h1m3 0h1m6 0h2m7 0h1M2069 142h1m4 0h1m27 0h1m1 0h3m1 0h2m5 0h3m4 0h1m3 0h1m5 0h1m3 0h1m6 0h2m7 0h1M2069 143h1m4 0h1m2 0h1m24 0h1m1 0h3m2 0h1m5 0h3m8 0h1m5 0h1m3 0h1m6 0h2m7 0h1M2063 144h1m5 0h1m4 0h1m2 0h1m3 0h1m2 0h1m4 0h1m12 0h1m1 0h3m2 0h1m6 0h2m8 0h1m5 0h1m3 0h1m6 0h2m6 0h2M2063 145h1m5 0h1m4 0h1m2 0h1m1 0h1m1 0h1m2 0h1m4 0h1m12 0h1m1 0h3m9 0h2m3 0h1m4 0h1m5 0h1m3 0h1m6 0h2m6 0h3M2063 146h1m5 0h1m4 0h1m2 0h1m1 0h1m1 0h1m2 0h1m4 0h1m12 0h1m1 0h3m9 0h2m3 0h1m4 0h1m5 0h1m3 0h1m6 0h2m6 0h3M2062 147h3m4 0h1m4 0h1m4 0h1m1 0h1m2 0h1m4 0h1m7 0h1m4 0h1m1 0h3m9 0h2m3 0h1m4 0h1m5 0h1m11 0h1m6 0h1M2062 148h3m4 0h1m4 0h1m4 0h1m1 0h1m2 0h1m4 0h1m6 0h3m3 0h1m1 0h3m2 0h1m6 0h1m4 0h1m3 0h2m3 0h1m1 0h1m11 0h1m6 0h1M2061 149h4m4 0h1m9 0h3m2 0h1m4 0h1m6 0h3m1 0h1m1 0h1m1 0h3m2 0h1m6 0h1m4 0h1m3 0h2m3 0h1m1 0h1m11 0h1m6 0h1M2061 150h5m3 0h1m9 0h3m2 0h1m4 0h1m6 0h3m1 0h1m1 0h1m1 0h3m2 0h1m6 0h1m4 0h1m3 0h2m3 0h1m1 0h1m11 0h1M2061 151h5m13 0h3m2 0h1m3 0h1m7 0h3m1 0h1m1 0h1m1 0h2m3 0h1m6 0h1m4 0h1m3 0h2m3 0h1m1 0h1m6 0h1m4 0h1M2061 152h5m14 0h2m2 0h1m3 0h1m8 0h2m1 0h3m1 0h2m3 0h1m11 0h1m3 0h2m3 0h1m8 0h1M2057 153h1m3 0h5m14 0h2m2 0h1m3 0h1m9 0h1m1 0h3m1 0h3m12 0h1m1 0h1m3 0h2m3 0h1m8 0h1M2049 154h1m2 0h1m4 0h2m2 0h5m14 0h3m5 0h1m9 0h1m1 0h3m1 0h3m12 0h1m1 0h1m3 0h2m3 0h1M2049 155h2m1 0h2m3 0h2m2 0h5m15 0h2m5 0h1m11 0h3m1 0h3m12 0h1m1 0h1m3 0h2m3 0h1M2049 156h2m1 0h2m3 0h2m2 0h5m15 0h2m5 0h1m11 0h3m1 0h3m12 0h5m1 0h2m3 0h1M2049 157h2m1 0h2m3 0h2m2 0h1m2 0h2m15 0h2m5 0h1m11 0h3m1 0h3m12 0h5m1 0h2m3 0h1M2046 158h1m2 0h2m1 0h2m3 0h2m2 0h1m2 0h2m2 0h1m13 0h1m17 0h3m1 0h3m9 0h1m3 0h4m1 0h2m3 0h1M2046 159h1m5 0h2m4 0h1m2 0h1m3 0h1m2 0h1m1 0h1m11 0h1m14 0h2m1 0h3m1 0h2m1 0h1m8 0h1m3 0h4m1 0h2M2046 160h1m5 0h1m12 0h1m1 0h2m1 0h1m11 0h1m8 0h1m5 0h2m1 0h3m1 0h2m1 0h1m7 0h1m4 0h4m1 0h2M2046 161h1m18 0h1m1 0h4m10 0h2m3 0h1m4 0h1m5 0h2m1 0h3m1 0h2m9 0h1m6 0h1m1 0h1m1 0h1M1553 162h4m489 0h1m18 0h1m1 0h4m10 0h2m3 0h1m4 0h1m5 0h1m2 0h3m1 0h2m1 0h1m7 0h1M1548 163h1m3 0h7m11 0h1m6 0h1m2 0h3m467 0h1m16 0h1m1 0h2m10 0h2m3 0h1m4 0h1m4 0h2m2 0h3m1 0h2m1 0h1m7 0h1M1546 164h3m2 0h10m4 0h1m2 0h3m1 0h1m3 0h8m466 0h1m4 0h1m11 0h1m1 0h2m1 0h1m8 0h2m3 0h1m4 0h1m4 0h2m2 0h3m1 0h2m1 0h1M1546 165h3m1 0h11m1 0h4m2 0h16m2 0h1m2 0h1m459 0h1m5 0h1m11 0h1m1 0h2m1 0h1m8 0h2m3 0h1m4 0h1m4 0h1m4 0h2m1 0h2m1 0h1M1548 166h1m1 0h17m1 0h16m1 0h9m74 0h2m13 0h5m4 0h2m361 0h1m11 0h1m1 0h5m7 0h2m8 0h1m4 0h1m5 0h1m4 0h1m2 0h1M1512 167h2m2 0h1m1 0h1m1 0h4m3 0h1m20 0h1m1 0h17m1 0h16m2 0h9m4 0h1m64 0h11m1 0h2m4 0h7m3 0h2m6 0h1m354 0h2m10 0h1m1 0h5m7 0h2m8 0h1m15 0h1m2 0h1M1512 168h13m2 0h2m19 0h1m1 0h11m1 0h5m1 0h16m2 0h10m2 0h2m54 0h1m9 0h15m1 0h10m1 0h4m1 0h7m6 0h5m3 0h3m335 0h2m10 0h1m2 0h4m7 0h2m8 0h1M1512 169h18m18 0h1m1 0h4m1 0h6m3 0h2m2 0h16m2 0h10m2 0h2m49 0h1m3 0h3m2 0h1m1 0h2m2 0h26m1 0h4m1 0h7m5 0h6m2 0h5m334 0h2m14 0h3m5 0h1m2 0h1m8 0h1m3 0h1M1513 170h17m17 0h1m3 0h2m4 0h1m7 0h1m3 0h15m2 0h10m2 0h2m49 0h2m1 0h4m2 0h4m2 0h11m1 0h19m1 0h9m3 0h6m1 0h6m334 0h2m14 0h3m5 0h1m2 0h1m7 0h1m4 0h1M1513 171h17m42 0h2m3 0h2m1 0h3m6 0h3m2 0h2m2 0h2m52 0h5m1 0h4m2 0h10m2 0h31m1 0h6m1 0h6m334 0h2m14 0h3m2 0h1m2 0h1m2 0h1m7 0h1M1513 172h1m1 0h14m51 0h1m8 0h2m61 0h5m1 0h4m3 0h9m3 0h25m1 0h4m1 0h6m1 0h6m334 0h2m14 0h1m1 0h1m2 0h1m2 0h1m2 0h1m7 0h1M1513 173h1m1 0h10m2 0h1m125 0h3m4 0h2m5 0h2m1 0h3m4 0h4m2 0h12m1 0h6m2 0h3m1 0h3m1 0h2m2 0h5m334 0h2m14 0h1m1 0h1m2 0h1m2 0h1m2 0h1m7 0h2m3 0h1M1650 174h1m3 0h1m5 0h1m6 0h2m8 0h3m3 0h7m1 0h4m4 0h2m3 0h1m3 0h2m7 0h3m329 0h2m4 0h1m6 0h1m8 0h1m1 0h1m2 0h1m2 0h1m2 0h1m7 0h2m3 0h2M1574 175h1m85 0h1m16 0h1m5 0h2m1 0h3m10 0h1m350 0h1m4 0h1m6 0h1m8 0h1m1 0h1m2 0h1m2 0h1m2 0h1m7 0h2m3 0h2M1574 176h1m85 0h1m6 0h1m1 0h1m2 0h1m2 0h1m1 0h1m2 0h1m2 0h2m1 0h3m12 0h1m343 0h1m9 0h1m6 0h1m8 0h1m4 0h1m1 0h2m2 0h1m8 0h1m3 0h2M1574 177h1m85 0h1m6 0h1m1 0h1m2 0h1m2 0h1m1 0h1m2 0h1m2 0h2m1 0h3m4 0h1m281 0h2m4 0h1m5 0h5m53 0h1m16 0h1m8 0h1m4 0h1m1 0h1m3 0h1m8 0h2m2 0h2M1571 178h1m2 0h1m85 0h1m3 0h1m4 0h2m1 0h1m2 0h1m1 0h1m2 0h1m2 0h2m1 0h3m4 0h2m280 0h3m2 0h2m3 0h7m53 0h1m8 0h1m7 0h1m15 0h1m3 0h1m2 0h1m6 0h1m1 0h3M1571 179h1m2 0h1m13 0h1m71 0h1m3 0h1m4 0h2m1 0h1m2 0h1m1 0h1m2 0h1m3 0h1m1 0h3m4 0h2m280 0h18m35 0h1m16 0h1m16 0h1m19 0h1m2 0h1m1 0h1m4 0h1m1 0h3M1571 180h1m2 0h1m13 0h1m40 0h1m25 0h1m4 0h1m3 0h1m4 0h2m1 0h1m2 0h1m1 0h1m2 0h1m3 0h1m1 0h1m1 0h1m4 0h2m280 0h18m35 0h1m15 0h2m16 0h1m22 0h1m1 0h2m3 0h1m1 0h1m1 0h1M1571 181h1m2 0h1m13 0h1m40 0h1m9 0h1m15 0h1m3 0h2m3 0h1m1 0h1m2 0h2m1 0h1m4 0h1m2 0h1m3 0h1m3 0h1m4 0h2m280 0h3m1 0h14m30 0h1m2 0h1m1 0h2m14 0h2m6 0h1m9 0h1m22 0h1m1 0h2m3 0h1m1 0h1M1571 182h1m2 0h1m13 0h1m3 0h1m36 0h1m9 0h1m2 0h1m12 0h1m3 0h2m3 0h1m1 0h1m2 0h2m1 0h1m4 0h1m2 0h1m6 0h3m3 0h2m3 0h1m276 0h2m3 0h13m30 0h1m2 0h1m2 0h1m14 0h1m7 0h1m2 0h1m6 0h1m15 0h1m4 0h1m1 0h1m1 0h2m3 0h1M1571 183h1m2 0h1m13 0h1m3 0h1m26 0h1m19 0h1m2 0h1m1 0h1m14 0h2m3 0h1m1 0h1m2 0h2m1 0h1m4 0h1m2 0h1m5 0h4m3 0h2m285 0h3m2 0h8m33 0h1m2 0h1m2 0h1m11 0h1m2 0h1m4 0h1m2 0h2m16 0h1m3 0h2m4 0h1m4 0h1m3 0h1M1574 184h1m13 0h1m26 0h1m3 0h1m1 0h2m16 0h1m4 0h1m15 0h1m3 0h3m2 0h2m1 0h1m7 0h1m5 0h4m3 0h2m285 0h2m5 0h3m1 0h1m34 0h1m2 0h1m1 0h1m12 0h1m1 0h2m4 0h1m2 0h2m16 0h1m3 0h2m4 0h1m4 0h1m3 0h1M1588 185h1m15 0h1m10 0h1m3 0h1m1 0h2m12 0h1m3 0h1m4 0h1m2 0h1m12 0h1m1 0h1m1 0h3m2 0h2m8 0h2m5 0h4m3 0h2m334 0h1m1 0h1m12 0h1m1 0h2m4 0h1m2 0h2m15 0h2m3 0h2m4 0h1m8 0h1M1588 186h1m15 0h1m10 0h1m3 0h1m15 0h1m3 0h1m7 0h1m12 0h1m1 0h1m1 0h3m1 0h3m8 0h2m1 0h1m3 0h4m3 0h1m2 0h1m332 0h1m1 0h1m3 0h1m1 0h1m6 0h1m1 0h2m4 0h1m3 0h1m15 0h2m3 0h2m4 0h1m6 0h1m1 0h1M1573 187h1m14 0h1m15 0h1m10 0h1m3 0h1m15 0h1m11 0h1m12 0h1m1 0h1m1 0h3m1 0h3m3 0h1m3 0h3m1 0h1m4 0h1m1 0h1m6 0h1m329 0h1m2 0h1m1 0h1m3 0h1m1 0h1m6 0h1m1 0h1m5 0h1m3 0h1m13 0h1m1 0h2m3 0h2m11 0h1M1604 188h1m10 0h1m19 0h1m11 0h1m12 0h1m1 0h1m1 0h3m1 0h3m3 0h1m3 0h5m340 0h1m2 0h1m2 0h1m1 0h1m3 0h1m1 0h1m6 0h1m1 0h1m5 0h1m3 0h1m13 0h1m1 0h2m4 0h1m11 0h1m8 0h1M1604 189h1m10 0h1m19 0h1m5 0h2m4 0h1m12 0h1m1 0h1m1 0h1m3 0h2m4 0h1m1 0h1m1 0h3m1 0h1m340 0h1m2 0h1m2 0h1m1 0h1m3 0h1m1 0h1m6 0h1m1 0h1m5 0h1m3 0h1m5 0h1m7 0h1m1 0h2m4 0h1m11 0h1m8 0h1M1604 190h1m10 0h1m19 0h1m5 0h2m4 0h1m2 0h1m9 0h1m3 0h1m4 0h1m4 0h3m1 0h2m343 0h1m2 0h1m2 0h1m1 0h1m3 0h1m1 0h1m6 0h3m5 0h1m3 0h1m4 0h2m7 0h1m1 0h2m4 0h1m11 0h1m8 0h1M1615 191h1m19 0h1m5 0h2m4 0h1m1 0h2m9 0h1m362 0h1m2 0h1m2 0h1m1 0h1m5 0h1m6 0h3m5 0h1m1 0h1m1 0h1m4 0h2m7 0h1m1 0h2m4 0h1m11 0h1m8 0h1M1641 192h2m6 0h2m9 0h1m362 0h1m2 0h1m2 0h1m1 0h1m5 0h1m5 0h3m6 0h1m1 0h1m1 0h1m4 0h2m7 0h3m5 0h1m11 0h1m6 0h1m1 0h1M1641 193h2m6 0h2m9 0h1m362 0h1m2 0h1m4 0h1m5 0h1m5 0h3m2 0h1m3 0h1m2 0h2m4 0h2m7 0h1m1 0h1m3 0h1m1 0h1m18 0h1m1 0h1M1641 194h2m6 0h1m381 0h1m5 0h1m5 0h3m2 0h1m3 0h1m3 0h2m3 0h2m7 0h1m5 0h1m1 0h1m20 0h1M1642 195h1m394 0h1m5 0h3m2 0h1m7 0h2m3 0h2m7 0h1m7 0h1m20 0h1M2037 196h1m7 0h1m2 0h1m7 0h2m3 0h2m15 0h1m20 0h2M2037 197h1m18 0h3m2 0h2m9 0h1m4 0h2m20 0h2M2037 198h1m18 0h3m2 0h2m9 0h1m4 0h1m6 0h1m14 0h2M2057 199h2m2 0h2m2 0h1m3 0h1m2 0h1m4 0h1m21 0h2M2056 200h3m2 0h2m2 0h1m3 0h1m2 0h1m4 0h1m21 0h2M2056 201h3m2 0h2m6 0h1m2 0h1m4 0h1m21 0h2M2052 202h1m3 0h3m2 0h2m6 0h1m1 0h2m4 0h1m6 0h1m14 0h1M2052 203h1m3 0h2m3 0h2m5 0h2m1 0h2m4 0h1m6 0h1M2052 204h1m3 0h2m4 0h1m5 0h5m3 0h2m6 0h1M2056 205h2m4 0h1m5 0h5m3 0h2m6 0h1M2057 206h1m4 0h1m5 0h5m2 0h3m6 0h1M2068 207h5m2 0h3m6 0h1M2068 208h5m2 0h3m1 0h1m4 0h1M2068 209h5m2 0h3m1 0h1m4 0h1M2068 210h5m2 0h2m2 0h1m4 0h1m2 0h1m5 0h1m2 0h1M2068 211h5m2 0h2m2 0h1m4 0h1m2 0h2m2 0h1m1 0h1m2 0h1M2068 212h5m2 0h2m2 0h1m4 0h1m3 0h1m2 0h1m1 0h1m2 0h2m1 0h1M2068 213h4m3 0h1m3 0h1m8 0h1m2 0h1m1 0h1m2 0h2m1 0h1M2068 214h4m3 0h1m3 0h1m8 0h1m2 0h1m1 0h1m2 0h2M2069 215h3m3 0h1m3 0h1m8 0h1m2 0h1m1 0h1m2 0h1M2071 216h1m3 0h1m3 0h1m4 0h1m3 0h1m2 0h1m1 0h1m2 0h1M2075 217h1m3 0h1m4 0h1m3 0h1m2 0h1m1 0h1m2 0h1m3 0h1M2075 218h1m3 0h2m3 0h2m2 0h1m2 0h1m1 0h1m2 0h1m3 0h1M2079 219h2m3 0h2m2 0h1m2 0h1m1 0h1m1 0h2m3 0h1M2084 220h2m2 0h1m2 0h1m1 0h1m1 0h2M2091 221h1m1 0h1m1 0h2M2093 222h1m1 0h1M89 304h2m1 0h8m2 0h2m6 0h1M89 305h15m1 0h3m2 0h1M48 306h1m1 0h1m13 0h1m3 0h4m17 0h19m2 0h1M47 307h5m3 0h1m1 0h1m5 0h11m15 0h19m2 0h2M47 308h5m3 0h6m2 0h11m15 0h20m1 0h2M47 309h5m2 0h7m2 0h11m15 0h23M47 310h5m2 0h7m2 0h11m15 0h23M22 311h1m24 0h5m2 0h7m1 0h12m14 0h15m2 0h7M3 312h2m1 0h2m3 0h2m9 0h3m22 0h5m2 0h2m1 0h4m1 0h12m14 0h15m2 0h7m6 0h7m1 0h3m2 0h2m1 0h2M0 313h1m2 0h11m5 0h6m22 0h6m1 0h2m1 0h4m1 0h13m13 0h15m1 0h5m5 0h1m1 0h5m1 0h5m2 0h4m1 0h3M0 314h1m2 0h22m21 0h10m1 0h18m13 0h15m1 0h4m7 0h1m1 0h2m10 0h3m3 0h2m2 0h1m71 0h2M0 315h2m1 0h22m21 0h29m13 0h15m1 0h4m21 0h1m1 0h1m4 0h1m2 0h2m54 0h5m5 0h3m1 0h5M0 316h2m1 0h22m21 0h29m13 0h15m1 0h4m6 0h1m14 0h1m6 0h1m1 0h3m39 0h1m3 0h1m4 0h12m1 0h14m2 0h2m1 0h1M0 317h2m1 0h22m21 0h29m12 0h16m1 0h4m5 0h2m14 0h1m8 0h3m39 0h2m1 0h2m4 0h12m1 0h22M0 318h2m1 0h22m21 0h29m12 0h16m1 0h4m5 0h1m2 0h1m3 0h1m8 0h1m8 0h3m39 0h2m1 0h3m3 0h12m1 0h22M0 319h2m1 0h22m21 0h18m1 0h10m9 0h1m2 0h16m1 0h2m1 0h2m4 0h1m2 0h1m3 0h2m7 0h1m8 0h3m39 0h2m1 0h3m3 0h12m1 0h23m1 0h1m2 0h2M0 320h2m1 0h22m20 0h19m1 0h10m9 0h22m1 0h2m4 0h1m2 0h1m3 0h2m3 0h1m3 0h1m8 0h4m38 0h6m3 0h12m1 0h26m1 0h2M0 321h2m1 0h22m20 0h19m1 0h10m9 0h22m1 0h2m2 0h1m1 0h2m1 0h2m1 0h7m2 0h2m3 0h1m2 0h1m1 0h4m38 0h6m3 0h12m1 0h29M0 322h2m1 0h22m20 0h19m1 0h11m8 0h22m1 0h3m1 0h16m1 0h2m1 0h6m1 0h4m38 0h6m3 0h12m1 0h29m1079 0h3M0 323h1m2 0h22m20 0h19m1 0h11m8 0h22m1 0h35m38 0h6m3 0h12m1 0h29m1079 0h3m6 0h1M0 324h1m2 0h22m20 0h3m1 0h15m1 0h11m8 0h28m1 0h13m1 0h16m37 0h6m2 0h4m1 0h8m1 0h29m1078 0h5m1 0h1m2 0h3m4 0h1m6 0h1M3 325h4m1 0h17m18 0h1m1 0h3m1 0h15m1 0h11m9 0h3m1 0h23m1 0h13m2 0h9m1 0h5m37 0h6m2 0h4m1 0h8m1 0h29m1074 0h1m1 0h15m2 0h5m3 0h1m2 0h5M3 326h4m1 0h16m19 0h1m1 0h3m1 0h15m1 0h11m9 0h3m1 0h23m1 0h12m3 0h6m1 0h2m2 0h2m39 0h7m1 0h13m1 0h29m1068 0h2m4 0h17m1 0h10m1 0h7m6 0h3M3 327h4m1 0h16m19 0h1m1 0h3m1 0h15m1 0h11m9 0h3m1 0h23m1 0h2m7 0h3m4 0h1m51 0h1m1 0h4m1 0h13m1 0h29m1067 0h3m2 0h38m2 0h2m2 0h4m2 0h2m14 0h1M3 328h4m2 0h15m19 0h1m1 0h3m1 0h4m1 0h22m13 0h23m2 0h1m66 0h1m1 0h4m1 0h9m1 0h3m2 0h27m1068 0h3m2 0h39m1 0h2m2 0h9m1 0h5m6 0h4m2 0h3M2 329h5m2 0h15m18 0h6m1 0h4m1 0h22m13 0h22m3 0h1m66 0h1m1 0h4m1 0h9m1 0h3m2 0h27m1068 0h3m1 0h40m1 0h3m1 0h16m1 0h1m3 0h4m2 0h4m2 0h2m1 0h1m6 0h7m1 0h1m5 0h2M2 330h1m1 0h1m6 0h7m1 0h1m1 0h3m18 0h6m1 0h4m1 0h22m13 0h22m3 0h1m66 0h1m1 0h14m1 0h3m2 0h27m1068 0h44m1 0h20m1 0h1m2 0h11m2 0h21m2 0h3m6 0h3m5 0h2m2 0h6m8 0h1m8 0h2M2 331h1m8 0h2m29 0h11m1 0h3m1 0h18m13 0h22m74 0h12m2 0h2m2 0h15m1 0h3m1 0h8m993 0h1m74 0h14m1 0h28m3 0h18m4 0h11m2 0h21m2 0h4m4 0h5m2 0h4m1 0h8m2 0h7m4 0h5M27 332h2m3 0h2m8 0h10m2 0h1m1 0h1m1 0h18m13 0h22m74 0h8m1 0h3m2 0h2m2 0h15m1 0h3m1 0h8m895 0h3m6 0h2m1 0h2m3 0h1m2 0h1m1 0h1m6 0h2m1 0h3m9 0h2m1 0h2m3 0h2m4 0h1m2 0h5m1 0h3m2 0h1m4 0h1m3 0h1m6 0h12m73 0h1m1 0h40m4 0h19m3 0h11m2 0h22m1 0h5m1 0h13m1 0h18m2 0h6M27 333h3m2 0h4m1 0h1m2 0h12m2 0h1m1 0h1m1 0h18m13 0h9m1 0h12m74 0h8m1 0h3m2 0h2m2 0h5m1 0h9m1 0h3m1 0h8m892 0h1m1 0h5m2 0h9m2 0h2m1 0h4m5 0h6m8 0h6m2 0h19m1 0h3m2 0h3m2 0h2m4 0h13m75 0h7m1 0h32m4 0h19m4 0h10m2 0h28m1 0h32m2 0h6M27 334h3m2 0h7m1 0h12m2 0h1m1 0h20m12 0h10m1 0h8m2 0h2m74 0h8m1 0h3m1 0h3m2 0h5m1 0h9m1 0h3m1 0h8m891 0h2m1 0h5m1 0h32m3 0h1m2 0h36m1 0h3m4 0h13m71 0h1m3 0h7m1 0h32m4 0h19m4 0h5m1 0h4m2 0h21m2 0h5m1 0h32m3 0h2m1 0h2M27 335h3m2 0h7m1 0h12m2 0h1m1 0h20m12 0h10m1 0h8m2 0h1m75 0h8m1 0h3m1 0h1m1 0h2m1 0h5m1 0h12m2 0h8m891 0h8m1 0h32m3 0h1m1 0h37m1 0h4m3 0h13m71 0h1m3 0h7m2 0h31m4 0h13m1 0h5m4 0h4m2 0h4m3 0h20m2 0h5m1 0h13m1 0h8m2 0h5m2 0h1m7 0h1M27 336h3m2 0h1m5 0h1m1 0h12m2 0h22m12 0h10m1 0h8m2 0h1m75 0h8m1 0h3m1 0h1m1 0h2m1 0h5m2 0h11m2 0h8m891 0h8m1 0h14m1 0h17m3 0h1m1 0h42m3 0h13m71 0h2m2 0h7m2 0h31m4 0h9m2 0h1m5 0h1m6 0h1m4 0h1m7 0h7m3 0h7m4 0h5m3 0h1m9 0h1m4 0h5m2 0h2M27 337h4m1 0h1m5 0h1m1 0h12m2 0h22m12 0h1m2 0h7m1 0h8m2 0h1m78 0h5m1 0h5m1 0h8m2 0h11m2 0h5m1 0h2m889 0h1m2 0h7m1 0h14m1 0h18m1 0h2m1 0h42m3 0h11m73 0h3m2 0h6m2 0h26m2 0h3m6 0h2m1 0h3m3 0h1M27 338h1m1 0h3m6 0h1m1 0h12m2 0h22m12 0h1m3 0h6m1 0h3m1 0h4m2 0h1m79 0h4m1 0h5m1 0h7m3 0h9m1 0h1m2 0h5m892 0h1m2 0h22m1 0h21m1 0h43m2 0h11m73 0h3m2 0h6m2 0h6m1 0h4m1 0h7m1 0h3m1 0h1m3 0h3M27 339h1m1 0h3m6 0h1m1 0h12m1 0h22m17 0h5m3 0h2m1 0h4m2 0h1m79 0h4m1 0h5m1 0h7m3 0h9m1 0h1m2 0h4m893 0h1m2 0h44m1 0h21m1 0h34m73 0h4m2 0h5m3 0h4m3 0h2m3 0h6m1 0h3M27 340h1m1 0h3m8 0h12m1 0h21m22 0h1m6 0h3m84 0h7m1 0h1m1 0h1m1 0h5m2 0h10m5 0h1m895 0h1m2 0h3m1 0h40m1 0h21m1 0h11m1 0h21m75 0h3m3 0h4m3 0h2m1 0h1m4 0h1m3 0h1M27 341h1m1 0h3m8 0h12m1 0h21m117 0h1m1 0h1m1 0h2m5 0h5m2 0h10m901 0h1m2 0h3m1 0h40m1 0h21m1 0h11m1 0h21m75 0h2m5 0h3m4 0h1M27 342h1m1 0h4m7 0h12m1 0h5m1 0h15m117 0h1m11 0h1m1 0h1m4 0h9m901 0h1m2 0h3m1 0h40m1 0h7m1 0h13m2 0h10m1 0h21M27 343h1m1 0h4m7 0h18m1 0h15m137 0h6m903 0h2m1 0h3m1 0h48m1 0h13m2 0h10m2 0h20m1 0h2M27 344h1m1 0h4m7 0h18m1 0h15m141 0h1m904 0h2m1 0h52m1 0h13m2 0h10m2 0h20m1 0h2M31 345h2m7 0h18m1 0h14m1046 0h3m1 0h49m1 0h2m1 0h13m2 0h10m2 0h20m1 0h2M31 346h2m3 0h2m1 0h19m1 0h14m1046 0h3m1 0h21m1 0h27m1 0h2m1 0h13m2 0h10m2 0h20m1 0h2M31 347h1m2 0h1m2 0h21m1 0h5m1 0h8m1046 0h3m1 0h40m1 0h8m1 0h2m1 0h13m2 0h11m1 0h14m1 0h5m1 0h2M34 348h1m2 0h15m1 0h5m1 0h5m1 0h8m1046 0h3m1 0h40m1 0h11m1 0h3m1 0h9m3 0h10m1 0h14m1 0h8M40 349h2m1 0h2m1 0h6m1 0h11m1 0h8m1046 0h3m1 0h22m1 0h17m2 0h7m1 0h2m1 0h3m1 0h9m3 0h10m1 0h14m1 0h8M46 350h2m1 0h3m1 0h4m1 0h6m1 0h8m1047 0h1m3 0h2m1 0h6m1 0h10m2 0h17m2 0h5m3 0h1m3 0h1m2 0h3m1 0h3m1 0h1m3 0h10m1 0h2m1 0h2m1 0h2m7 0h2m1 0h2M47 351h1m1 0h3m1 0h4m1 0h5m2 0h4m1 0h3m1047 0h1m3 0h1m2 0h3m4 0h10m3 0h1m4 0h2m1 0h2m10 0h2m23 0h3m1 0h2m24 0h1M49 352h3m3 0h2m2 0h4m2 0h4m2 0h2M50 353h2m3 0h2m2 0h3m6 0h1M51 354h1"/>
<path stroke="#00ffff" d="M1289 0h1M1289 1h1m168 0h8m1 0h1m24 0h5m1 0h3m2 0h4m7 0h4M1459 2h10m19 0h1m2 0h6m1 0h10m1 0h1m1 0h1m1 0h5m283 0h5m1 0h5M1458 3h11m18 0h2m2 0h6m1 0h12m1 0h7m281 0h13M1057 4h1m400 0h11m17 0h3m2 0h6m1 0h12m1 0h7m280 0h13M1054 5h1m2 0h1m230 0h2m168 0h7m1 0h2m19 0h2m2 0h19m1 0h7m280 0h13M1054 6h1m233 0h2m168 0h7m1 0h1m20 0h23m1 0h8m279 0h12M1287 7h3m167 0h7m2 0h1m20 0h23m1 0h8m279 0h11M1457 8h7m2 0h1m20 0h13m1 0h9m1 0h8m207 0h2m7 0h2m61 0h11M1102 9h2m353 0h7m2 0h1m22 0h6m1 0h3m2 0h9m2 0h7m207 0h2m3 0h2m1 0h3m61 0h11M1102 10h3m1 0h2m349 0h7m2 0h1m22 0h3m4 0h3m2 0h9m2 0h6m208 0h2m3 0h2m1 0h4m60 0h11M1102 11h1m1 0h4m349 0h7m1 0h2m23 0h2m5 0h2m2 0h9m4 0h4m208 0h2m3 0h2m1 0h4m57 0h14m1 0h1m11 0h1M1104 12h4m350 0h4m1 0h4m23 0h2m5 0h2m2 0h9m4 0h4m200 0h2m1 0h3m1 0h3m3 0h7m3 0h1m50 0h1m1 0h15m1 0h1m11 0h2M1103 13h5m350 0h3m3 0h2m25 0h2m5 0h12m4 0h5m196 0h13m3 0h7m1 0h3m49 0h21m9 0h4M1103 14h5m356 0h2m25 0h3m4 0h15m1 0h6m194 0h15m1 0h8m1 0h3m47 0h23m5 0h1m3 0h4m304 0h5M1101 15h1m1 0h5m383 0h2m6 0h22m191 0h17m1 0h8m1 0h4m46 0h24m2 0h1m1 0h2m1 0h5m304 0h5M1101 16h8m386 0h2m2 0h2m1 0h3m2 0h14m191 0h17m1 0h8m1 0h5m45 0h36m307 0h2M1101 17h8m386 0h2m2 0h2m2 0h1m3 0h14m11 0h4m93 0h1m1 0h1m80 0h17m1 0h14m3 0h1m8 0h1m32 0h36m320 0h1M1101 18h8m386 0h2m3 0h1m5 0h13m1 0h1m7 0h1m2 0h6m91 0h10m74 0h17m1 0h15m2 0h3m1 0h7m2 0h1m25 0h39m320 0h4M1101 19h8m386 0h2m3 0h1m5 0h12m9 0h4m1 0h5m90 0h13m1 0h1m3 0h1m4 0h1m61 0h33m2 0h3m1 0h7m1 0h2m25 0h39m315 0h2m1 0h6M1101 20h6m1 0h1m397 0h12m8 0h5m96 0h2m1 0h14m1 0h3m2 0h1m62 0h28m1 0h3m1 0h15m25 0h2m1 0h35m316 0h9M1101 21h3m402 0h10m1 0h1m8 0h5m96 0h2m1 0h10m1 0h3m1 0h3m2 0h1m58 0h1m3 0h24m1 0h1m1 0h1m2 0h2m1 0h16m24 0h2m1 0h32m1 0h2m317 0h6M1102 22h2m206 0h2m194 0h9m11 0h5m97 0h12m1 0h11m57 0h2m2 0h24m1 0h1m5 0h1m1 0h16m24 0h3m1 0h11m1 0h19m1 0h2m317 0h2m1 0h4M1309 23h4m194 0h4m1 0h2m12 0h4m98 0h12m2 0h11m56 0h2m2 0h26m5 0h1m1 0h16m24 0h14m1 0h20m1 0h3m33 0h4m92 0h1m2 0h1m12 0h2m169 0h8M1309 24h4m195 0h2m3 0h1m12 0h1m1 0h2m98 0h12m2 0h12m55 0h1m3 0h26m7 0h16m4 0h1m17 0h16m1 0h24m3 0h2m24 0h11m17 0h2m63 0h2m4 0h3m1 0h4m5 0h1m2 0h4m168 0h9M1310 25h3m216 0h2m97 0h8m2 0h1m3 0h12m55 0h1m2 0h27m7 0h7m1 0h10m2 0h3m5 0h1m9 0h16m1 0h24m1 0h1m1 0h2m25 0h12m15 0h2m1 0h3m2 0h3m43 0h3m1 0h1m6 0h2m3 0h5m1 0h4m4 0h2m1 0h4m168 0h9m7 0h1M997 26h3m312 0h2m215 0h2m97 0h8m2 0h1m4 0h11m55 0h1m2 0h27m7 0h2m1 0h4m3 0h8m2 0h4m3 0h3m2 0h2m1 0h1m2 0h9m1 0h6m1 0h26m1 0h2m25 0h14m13 0h6m1 0h7m10 0h2m27 0h7m5 0h2m1 0h7m1 0h4m1 0h11m167 0h5m1 0h1m8 0h2M996 27h7m108 0h9m192 0h1m216 0h2m3 0h2m92 0h8m2 0h1m4 0h10m57 0h1m1 0h27m7 0h1m2 0h6m1 0h8m1 0h5m1 0h5m2 0h4m2 0h2m1 0h6m1 0h6m1 0h12m1 0h1m1 0h14m18 0h1m1 0h3m2 0h2m1 0h12m2 0h3m2 0h1m3 0h16m3 0h2m4 0h2m27 0h4m1 0h3m5 0h14m1 0h11m167 0h1m2 0h1m11 0h2M996 28h7m108 0h5m2 0h2m192 0h1m215 0h4m2 0h2m92 0h8m7 0h10m57 0h1m1 0h6m1 0h20m7 0h1m3 0h5m1 0h8m1 0h11m2 0h5m1 0h2m1 0h6m1 0h6m1 0h14m1 0h14m1 0h2m7 0h2m6 0h5m2 0h1m2 0h13m1 0h3m2 0h1m1 0h2m1 0h15m3 0h3m3 0h3m26 0h3m2 0h3m5 0h14m1 0h9m172 0h1m6 0h4m1 0h2M996 29h6m110 0h3m4 0h1m189 0h3m215 0h5m2 0h1m93 0h8m1 0h1m6 0h3m2 0h4m59 0h5m2 0h21m6 0h1m3 0h13m2 0h11m2 0h22m2 0h12m2 0h14m1 0h2m3 0h1m1 0h1m1 0h2m4 0h1m1 0h6m1 0h2m1 0h17m1 0h5m1 0h16m2 0h3m1 0h1m1 0h5m24 0h2m2 0h4m5 0h7m2 0h5m1 0h9m172 0h5m1 0h5m2 0h1M996 30h6m8 0h2m3 0h1m293 0h3m215 0h5m1 0h1m94 0h10m1 0h1m5 0h2m65 0h5m2 0h22m5 0h1m3 0h13m2 0h11m2 0h22m2 0h7m1 0h4m2 0h14m1 0h3m1 0h7m4 0h1m1 0h9m1 0h17m1 0h5m1 0h16m1 0h6m1 0h6m24 0h1m1 0h5m5 0h8m1 0h6m1 0h9m3 0h1m167 0h5m1 0h5m2 0h1M996 31h5m9 0h2m3 0h2m291 0h5m214 0h5m1 0h1m94 0h12m71 0h6m2 0h22m5 0h2m2 0h1m1 0h11m2 0h11m2 0h22m2 0h7m2 0h3m2 0h18m1 0h7m4 0h1m1 0h9m1 0h23m1 0h23m1 0h7m1 0h2m19 0h2m1 0h3m7 0h8m1 0h10m2 0h5m2 0h1m165 0h7m1 0h5m2 0h1M997 32h6m2 0h2m8 0h1m16 0h2m277 0h2m214 0h7m94 0h8m1 0h3m71 0h6m2 0h23m4 0h2m2 0h1m1 0h11m2 0h10m3 0h15m2 0h4m5 0h5m2 0h3m2 0h26m3 0h2m1 0h33m1 0h23m1 0h7m1 0h2m19 0h6m7 0h8m1 0h5m2 0h3m3 0h5m1 0h1m165 0h5m1 0h1m1 0h5m1 0h2M981 33h2m14 0h4m1 0h1m3 0h2m3 0h4m10 0h4m2 0h3m493 0h7m86 0h1m7 0h8m1 0h3m1 0h1m69 0h6m2 0h23m4 0h2m2 0h1m1 0h2m1 0h8m2 0h10m3 0h1m1 0h13m2 0h1m1 0h2m5 0h4m3 0h3m2 0h3m1 0h23m2 0h36m1 0h34m19 0h2m1 0h6m4 0h6m3 0h5m2 0h3m3 0h5m1 0h1m165 0h5m1 0h1m1 0h8M997 34h1m1 0h1m6 0h2m3 0h4m12 0h2m2 0h3m60 0h3m430 0h8m85 0h2m1 0h1m4 0h8m1 0h2m72 0h6m2 0h10m1 0h7m1 0h4m5 0h1m2 0h1m2 0h1m1 0h7m3 0h11m2 0h1m1 0h13m2 0h1m1 0h2m4 0h5m4 0h2m2 0h3m1 0h23m2 0h16m1 0h18m2 0h34m20 0h1m2 0h4m6 0h7m1 0h10m3 0h6m16 0h1m1 0h2m2 0h1m144 0h3m2 0h10M1006 35h3m2 0h6m10 0h8m59 0h4m430 0h7m80 0h1m1 0h1m2 0h2m1 0h2m4 0h7m1 0h2m72 0h7m2 0h2m1 0h10m1 0h3m1 0h5m7 0h1m4 0h7m2 0h12m2 0h15m2 0h1m1 0h2m4 0h5m4 0h3m1 0h45m1 0h18m2 0h34m32 0h18m3 0h7m15 0h9m143 0h3m2 0h10M1011 36h6m10 0h5m1 0h1m60 0h4m430 0h5m82 0h3m2 0h2m1 0h2m4 0h7m1 0h3m72 0h6m2 0h1m2 0h2m2 0h5m2 0h9m12 0h7m2 0h29m2 0h1m1 0h2m2 0h1m2 0h4m4 0h3m1 0h45m1 0h1m1 0h16m2 0h34m32 0h18m2 0h4m1 0h3m14 0h10m144 0h2m2 0h10M980 37h3m28 0h2m2 0h2m8 0h7m62 0h4m430 0h5m82 0h3m5 0h3m3 0h1m1 0h5m1 0h3m72 0h5m3 0h1m2 0h2m2 0h5m2 0h10m3 0h1m7 0h7m2 0h30m1 0h1m1 0h2m2 0h2m1 0h4m4 0h3m1 0h18m1 0h14m1 0h11m1 0h1m1 0h16m2 0h34m1 0h1m30 0h13m1 0h5m1 0h3m2 0h4m13 0h10m144 0h2m2 0h2m1 0h7M1011 38h1m13 0h7m62 0h2m432 0h5m83 0h1m6 0h3m5 0h5m1 0h3m72 0h5m6 0h1m4 0h4m3 0h9m3 0h1m8 0h6m1 0h31m3 0h2m2 0h2m1 0h6m2 0h3m1 0h18m1 0h9m1 0h4m1 0h11m1 0h1m1 0h16m2 0h34m1 0h1m30 0h19m1 0h3m1 0h5m13 0h9m145 0h5m2 0h7M1011 39h1m15 0h5m498 0h3m98 0h5m1 0h3m72 0h5m2 0h2m2 0h1m4 0h3m3 0h9m2 0h1m1 0h1m8 0h7m1 0h22m2 0h7m2 0h2m2 0h9m2 0h3m1 0h18m1 0h5m2 0h2m1 0h1m1 0h2m1 0h11m1 0h1m1 0h16m2 0h34m1 0h1m30 0h18m2 0h2m2 0h5m13 0h8m143 0h2m1 0h5m2 0h7M1010 40h2m518 0h4m97 0h1m2 0h2m1 0h3m73 0h3m3 0h2m2 0h2m3 0h4m2 0h9m2 0h3m8 0h1m1 0h5m1 0h23m1 0h2m2 0h3m2 0h2m2 0h9m2 0h22m1 0h5m3 0h2m2 0h2m2 0h10m1 0h1m1 0h16m2 0h36m30 0h19m1 0h2m2 0h5m13 0h2m1 0h5m144 0h1m1 0h3m5 0h6M998 41h2m1 0h2m2 0h1m1 0h1m2 0h2m518 0h4m100 0h2m1 0h3m73 0h3m2 0h4m1 0h19m3 0h3m4 0h2m1 0h2m1 0h5m1 0h23m1 0h2m2 0h3m2 0h2m2 0h9m1 0h23m1 0h5m3 0h2m2 0h2m1 0h13m1 0h16m2 0h13m1 0h22m1 0h1m28 0h19m5 0h5m13 0h8m1 0h1m152 0h6M997 42h6m1 0h4m2 0h2m26 0h3m489 0h4m101 0h5m71 0h1m1 0h3m2 0h4m1 0h19m2 0h4m1 0h1m2 0h5m1 0h5m1 0h4m1 0h21m3 0h2m2 0h2m2 0h9m1 0h23m1 0h5m3 0h2m2 0h34m1 0h13m1 0h24m20 0h1m9 0h10m1 0h7m4 0h4m14 0h10m152 0h6M997 43h3m1 0h2m1 0h8m26 0h3m488 0h5m103 0h3m73 0h3m2 0h24m2 0h4m1 0h8m1 0h5m2 0h1m1 0h1m1 0h21m3 0h2m2 0h12m3 0h28m3 0h2m2 0h36m1 0h11m1 0h25m9 0h1m9 0h2m9 0h18m1 0h6m14 0h6m1 0h4m152 0h5M997 44h1m1 0h1m1 0h2m1 0h8m516 0h8m101 0h1m75 0h3m2 0h11m1 0h13m1 0h19m2 0h1m1 0h23m3 0h2m2 0h12m3 0h28m3 0h2m2 0h36m1 0h33m1 0h3m8 0h5m1 0h4m1 0h3m7 0h6m2 0h7m2 0h5m1 0h3m14 0h6m2 0h3m148 0h1m2 0h6M1005 45h3m3 0h1m28 0h2m487 0h7m177 0h3m2 0h6m1 0h4m1 0h20m1 0h13m1 0h1m1 0h23m2 0h3m2 0h12m2 0h29m3 0h2m1 0h2m1 0h34m1 0h22m1 0h10m1 0h3m8 0h5m3 0h6m7 0h6m4 0h4m3 0h5m2 0h2m14 0h6m2 0h3m16 0h1m131 0h1m2 0h6M1039 46h3m3 0h3m481 0h7m178 0h2m3 0h4m2 0h4m1 0h20m1 0h13m3 0h23m2 0h3m2 0h12m1 0h31m2 0h2m1 0h2m1 0h9m1 0h24m1 0h2m1 0h5m1 0h24m1 0h3m8 0h5m3 0h6m8 0h5m4 0h4m3 0h4m3 0h2m14 0h5m1 0h5m15 0h3m130 0h9M1039 47h9m1 0h3m476 0h1m1 0h5m180 0h1m3 0h3m3 0h4m1 0h20m1 0h13m3 0h23m2 0h3m2 0h12m1 0h31m1 0h3m1 0h2m1 0h5m1 0h2m2 0h2m1 0h20m2 0h1m2 0h2m1 0h2m2 0h14m2 0h7m1 0h3m8 0h5m2 0h6m9 0h6m3 0h2m1 0h3m1 0h4m19 0h12m5 0h2m7 0h3m2 0h1m127 0h9M1039 48h14m474 0h2m1 0h7m24 0h1m2 0h1m150 0h2m1 0h4m3 0h1m1 0h23m2 0h11m5 0h1m1 0h21m1 0h3m3 0h11m1 0h38m1 0h5m1 0h2m2 0h2m1 0h20m2 0h1m3 0h1m1 0h2m2 0h5m1 0h4m1 0h3m2 0h7m1 0h2m10 0h2m1 0h9m9 0h6m3 0h1m2 0h3m1 0h5m18 0h12m2 0h4m8 0h3m2 0h1m127 0h9M1039 49h6m1 0h7m404 0h5m65 0h10m23 0h6m150 0h6m3 0h1m1 0h23m2 0h2m1 0h2m1 0h4m8 0h18m1 0h2m1 0h3m2 0h51m1 0h8m2 0h23m2 0h1m5 0h2m3 0h4m1 0h4m1 0h3m1 0h8m1 0h1m15 0h8m11 0h4m2 0h3m2 0h8m21 0h1m2 0h2m2 0h2m1 0h5m7 0h7m127 0h9M1039 50h2m1 0h9m406 0h5m34 0h1m29 0h11m23 0h6m1 0h1m1 0h1m143 0h2m1 0h6m2 0h2m1 0h19m2 0h2m21 0h1m1 0h22m2 0h1m1 0h25m1 0h23m1 0h3m1 0h4m3 0h22m2 0h2m4 0h2m4 0h2m2 0h2m3 0h3m1 0h3m1 0h4m1 0h1m14 0h10m13 0h6m1 0h9m28 0h2m1 0h2m1 0h2m2 0h1m4 0h6m128 0h9M1039 51h12m406 0h1m1 0h3m27 0h1m2 0h1m2 0h2m2 0h2m25 0h12m22 0h10m142 0h3m1 0h29m3 0h1m25 0h1m2 0h18m2 0h1m1 0h25m1 0h22m6 0h4m3 0h22m2 0h2m4 0h2m2 0h4m2 0h1m4 0h3m1 0h3m6 0h1m2 0h1m13 0h8m15 0h8m2 0h4m28 0h2m1 0h1m6 0h1m5 0h5m14 0h1m2 0h4m108 0h8M1039 52h12m1 0h2m405 0h2m11 0h1m3 0h2m4 0h2m1 0h5m2 0h2m1 0h6m25 0h12m22 0h10m142 0h33m35 0h15m2 0h1m1 0h25m1 0h23m1 0h1m2 0h6m2 0h22m2 0h2m4 0h2m2 0h4m7 0h3m1 0h3m6 0h1m2 0h1m10 0h1m3 0h7m15 0h7m35 0h5m11 0h5m16 0h8m4 0h1m100 0h8M1040 53h4m1 0h5m2 0h3m416 0h3m2 0h2m4 0h2m1 0h5m2 0h1m2 0h7m1 0h1m1 0h1m20 0h12m22 0h10m142 0h29m1 0h1m42 0h10m2 0h1m1 0h25m2 0h24m2 0h6m2 0h22m2 0h2m2 0h1m1 0h2m2 0h4m7 0h3m1 0h2m7 0h1m2 0h1m10 0h1m3 0h7m17 0h2m1 0h2m35 0h5m11 0h5m17 0h7m4 0h1m100 0h8M1039 54h5m1 0h5m2 0h4m415 0h3m2 0h4m2 0h2m1 0h5m2 0h1m2 0h11m3 0h3m14 0h12m23 0h9m142 0h26m2 0h1m44 0h11m1 0h28m3 0h9m1 0h12m1 0h7m2 0h19m1 0h2m2 0h2m2 0h5m1 0h4m7 0h3m1 0h2m2 0h2m22 0h5m60 0h4m2 0h1m7 0h4m17 0h2m1 0h12m98 0h8M1039 55h11m1 0h5m415 0h3m2 0h4m2 0h2m1 0h6m1 0h1m2 0h12m1 0h4m3 0h2m9 0h12m23 0h2m2 0h5m142 0h26m48 0h4m1 0h5m1 0h26m5 0h9m1 0h41m1 0h2m1 0h14m8 0h3m1 0h2m2 0h3m21 0h5m61 0h4m4 0h1m5 0h2m17 0h14m101 0h7M1041 56h14m415 0h4m2 0h4m2 0h2m1 0h9m1 0h22m9 0h12m27 0h2m1 0h2m143 0h21m1 0h3m53 0h5m2 0h26m5 0h8m1 0h35m1 0h5m1 0h1m2 0h13m6 0h6m1 0h2m2 0h3m17 0h1m2 0h6m61 0h4m3 0h2m3 0h4m18 0h13m101 0h7M1041 57h13m415 0h5m2 0h8m1 0h9m1 0h22m9 0h12m27 0h2m1 0h2m145 0h17m1 0h1m2 0h1m55 0h4m2 0h26m5 0h7m2 0h32m1 0h2m1 0h5m1 0h1m1 0h13m1 0h1m4 0h7m1 0h2m2 0h3m16 0h5m2 0h3m61 0h4m2 0h3m3 0h1m1 0h2m18 0h14m100 0h7M1041 58h12m414 0h1m1 0h5m1 0h8m2 0h9m1 0h22m9 0h12m27 0h2m2 0h1m145 0h17m66 0h2m1 0h24m4 0h7m2 0h21m1 0h10m1 0h2m1 0h5m1 0h1m1 0h15m1 0h10m1 0h2m2 0h3m14 0h7m2 0h4m60 0h9m3 0h1m1 0h2m18 0h7m2 0h3m1 0h1m100 0h7M1041 59h12m414 0h16m1 0h10m1 0h1m1 0h3m1 0h5m1 0h4m2 0h4m10 0h11m27 0h2m149 0h12m70 0h1m2 0h24m2 0h9m2 0h10m1 0h10m1 0h13m1 0h5m1 0h11m1 0h5m1 0h10m1 0h2m1 0h4m2 0h1m11 0h7m2 0h5m32 0h3m25 0h5m1 0h2m3 0h1m1 0h2m17 0h1m1 0h6m2 0h3m1 0h2m101 0h5M1040 60h6m1 0h5m416 0h26m4 0h2m2 0h9m2 0h2m1 0h1m10 0h11m27 0h2m149 0h1m1 0h5m1 0h4m74 0h34m2 0h5m1 0h3m2 0h10m1 0h3m1 0h15m1 0h10m2 0h27m11 0h15m27 0h1m3 0h4m24 0h5m1 0h2m6 0h1m17 0h1m2 0h5m1 0h4m2 0h1m104 0h2M1040 61h6m2 0h4m1 0h1m414 0h11m2 0h11m6 0h2m2 0h9m2 0h2m1 0h2m9 0h8m1 0h1m26 0h5m150 0h5m1 0h2m77 0h29m1 0h3m1 0h6m1 0h2m3 0h10m2 0h2m1 0h15m1 0h4m1 0h5m2 0h2m1 0h24m12 0h3m2 0h9m2 0h1m24 0h2m1 0h5m23 0h6m1 0h2m27 0h5m1 0h4m2 0h2M1039 62h4m5 0h1m1 0h1m24 0h1m391 0h6m1 0h5m2 0h10m6 0h3m1 0h10m2 0h2m1 0h3m8 0h8m28 0h5m2 0h1m147 0h1m2 0h1m83 0h27m1 0h3m1 0h5m1 0h3m3 0h10m3 0h1m1 0h15m1 0h4m1 0h3m1 0h1m3 0h1m2 0h23m1 0h1m10 0h2m4 0h11m25 0h2m1 0h4m22 0h6m2 0h2m27 0h5m1 0h4m2 0h1M1041 63h2m29 0h2m1 0h1m2 0h1m388 0h12m2 0h11m5 0h14m2 0h2m1 0h2m10 0h7m28 0h5m1 0h2m150 0h1m85 0h25m1 0h3m1 0h5m1 0h3m1 0h1m1 0h10m3 0h1m1 0h20m1 0h3m8 0h23m1 0h1m10 0h1m5 0h11m25 0h2m1 0h4m22 0h3m1 0h2m2 0h2m26 0h7m1 0h3M1071 64h5m1 0h4m385 0h13m2 0h1m2 0h9m3 0h15m2 0h2m1 0h2m10 0h4m1 0h1m28 0h6m1 0h2m237 0h1m2 0h25m1 0h22m3 0h24m10 0h23m1 0h1m10 0h1m1 0h1m3 0h6m1 0h4m26 0h1m1 0h4m21 0h4m1 0h3m28 0h7m2 0h2M1071 65h5m1 0h3m3 0h1m382 0h14m4 0h10m2 0h10m1 0h4m2 0h2m1 0h2m11 0h3m30 0h4m1 0h4m240 0h2m3 0h20m1 0h22m1 0h25m6 0h1m3 0h17m1 0h6m1 0h1m10 0h1m1 0h1m2 0h3m2 0h6m2 0h1m26 0h4m22 0h3m1 0h4m27 0h7m2 0h2m1 0h2M1071 66h5m1 0h3m3 0h2m379 0h17m2 0h23m1 0h4m2 0h2m1 0h2m8 0h1m2 0h3m30 0h3m2 0h4m248 0h66m6 0h1m3 0h17m1 0h6m13 0h2m1 0h4m2 0h5m2 0h2m26 0h4m22 0h3m1 0h5m26 0h7m2 0h2m1 0h3M1072 67h3m2 0h3m1 0h1m2 0h1m379 0h7m2 0h9m1 0h16m1 0h12m1 0h5m8 0h2m1 0h4m29 0h3m2 0h4m25 0h5m221 0h2m2 0h47m1 0h11m6 0h1m3 0h16m2 0h5m14 0h7m2 0h5m3 0h1m23 0h1m2 0h4m23 0h7m6 0h5m16 0h7m2 0h2m1 0h4M1073 68h2m2 0h2m2 0h1m381 0h8m2 0h13m1 0h12m1 0h15m1 0h2m8 0h2m1 0h4m28 0h4m2 0h4m23 0h7m222 0h1m4 0h36m1 0h8m2 0h10m6 0h2m2 0h5m1 0h5m1 0h1m1 0h2m2 0h4m15 0h7m2 0h5m29 0h5m24 0h6m6 0h5m16 0h7m2 0h2m2 0h3M1077 69h1m385 0h2m1 0h5m2 0h26m1 0h15m11 0h2m1 0h4m28 0h4m2 0h4m23 0h8m221 0h1m8 0h2m1 0h6m2 0h2m1 0h17m3 0h7m2 0h10m4 0h5m1 0h5m1 0h5m1 0h1m1 0h2m2 0h4m14 0h8m3 0h6m26 0h7m23 0h6m6 0h4m18 0h6m6 0h3M1466 70h5m2 0h5m1 0h5m1 0h29m16 0h1m30 0h4m2 0h4m23 0h8m247 0h1m1 0h8m1 0h3m4 0h6m2 0h10m4 0h5m1 0h3m3 0h7m1 0h2m2 0h4m14 0h1m2 0h3m4 0h7m26 0h5m1 0h1m23 0h7m5 0h4m18 0h1m1 0h4m3 0h1m1 0h4M1468 71h3m2 0h5m1 0h5m1 0h4m2 0h23m47 0h10m23 0h6m1 0h1m249 0h8m2 0h1m5 0h6m2 0h7m2 0h2m3 0h9m1 0h1m1 0h7m1 0h2m2 0h3m15 0h1m3 0h2m4 0h6m27 0h5m1 0h1m23 0h7m5 0h4m20 0h1m1 0h4m1 0h6M1468 72h10m1 0h5m1 0h5m1 0h26m44 0h11m22 0h6m1 0h1m249 0h3m1 0h4m9 0h4m6 0h1m5 0h2m3 0h9m1 0h1m1 0h7m1 0h2m2 0h2m27 0h3m29 0h4m2 0h1m23 0h6m6 0h5m19 0h1m1 0h11M1468 73h10m1 0h9m1 0h1m2 0h25m44 0h2m1 0h7m23 0h5m2 0h2m253 0h1m11 0h1m1 0h1m14 0h1m3 0h9m1 0h9m2 0h1m32 0h1m30 0h3m27 0h3m2 0h1m6 0h5m19 0h1m1 0h11M1468 74h1m1 0h7m1 0h9m5 0h8m2 0h15m12 0h2m31 0h9m1 0h1m21 0h6m1 0h1m283 0h2m2 0h9m1 0h9m2 0h1m63 0h3m39 0h5m18 0h14M1398 75h2m50 0h3m15 0h1m1 0h7m1 0h4m1 0h4m5 0h4m1 0h3m2 0h15m1 0h1m7 0h1m1 0h3m2 0h1m28 0h9m1 0h1m20 0h7m285 0h2m2 0h9m1 0h9m2 0h1m61 0h1m2 0h2m25 0h1m14 0h4m17 0h15M1395 76h5m50 0h4m16 0h7m1 0h4m1 0h4m5 0h4m1 0h3m2 0h5m2 0h8m1 0h1m6 0h6m31 0h9m1 0h1m20 0h1m5 0h1m285 0h2m2 0h16m1 0h2m64 0h1m29 0h3m13 0h2m20 0h1m2 0h10M1395 77h4m51 0h4m16 0h2m1 0h14m3 0h10m2 0h2m1 0h2m2 0h3m1 0h4m1 0h1m6 0h6m33 0h9m312 0h2m2 0h15m2 0h1m65 0h2m28 0h3m2 0h2m34 0h10M1396 78h3m51 0h3m17 0h2m2 0h13m3 0h10m5 0h2m2 0h3m2 0h2m2 0h2m5 0h5m36 0h7m313 0h1m2 0h1m2 0h12m2 0h1m94 0h4m2 0h3m33 0h11M1396 79h3m52 0h2m17 0h4m1 0h11m3 0h11m1 0h1m3 0h2m1 0h4m2 0h2m2 0h2m7 0h1m1 0h1m36 0h7m313 0h1m2 0h1m2 0h9m1 0h2m98 0h3m3 0h1m34 0h11M1396 80h4m51 0h1m19 0h3m1 0h11m3 0h10m2 0h1m3 0h8m1 0h2m2 0h1m47 0h7m313 0h1m2 0h1m2 0h9m2 0h1m135 0h2m1 0h12M1396 81h4m69 0h1m1 0h3m1 0h7m1 0h3m1 0h1m1 0h10m2 0h1m2 0h12m2 0h1m47 0h7m316 0h1m2 0h7m140 0h15M1396 82h4m50 0h1m18 0h1m1 0h11m1 0h9m1 0h6m5 0h12m50 0h2m1 0h4m319 0h7m140 0h4m1 0h10M1396 83h4m49 0h3m17 0h1m1 0h21m2 0h2m1 0h2m6 0h12m49 0h2m1 0h4m317 0h1m1 0h3m1 0h2m141 0h4m2 0h7m56 0h5m1 0h1M1396 84h4m51 0h1m17 0h17m2 0h4m2 0h2m1 0h4m4 0h12m49 0h1m1 0h2m1 0h2m324 0h1m141 0h4m3 0h3m59 0h10m1 0h4M1396 85h4m70 0h8m1 0h7m2 0h1m1 0h1m2 0h3m1 0h1m1 0h2m5 0h11m51 0h2m2 0h1m466 0h4m3 0h3m53 0h1m1 0h1m2 0h16m7 0h1M1396 86h3m73 0h5m2 0h8m1 0h1m4 0h3m3 0h2m5 0h11m51 0h2m469 0h4m4 0h2m52 0h22m3 0h1m3 0h1M1396 87h3m74 0h4m2 0h8m5 0h4m2 0h3m5 0h11m524 0h2m4 0h1m53 0h22m2 0h2m3 0h1M1395 88h4m74 0h5m1 0h8m5 0h4m2 0h3m5 0h8m1 0h1m585 0h22m1 0h3m3 0h1M1395 89h5m74 0h16m2 0h4m2 0h3m1 0h9m590 0h22m1 0h3M1395 90h6m73 0h16m3 0h4m1 0h3m1 0h9m590 0h2m1 0h7m2 0h14m1 0h1M1399 91h2m73 0h16m3 0h4m1 0h2m2 0h6m1 0h1m591 0h2m1 0h7m2 0h14m1 0h1M1475 92h16m2 0h7m1 0h7m1 0h1m592 0h1m1 0h1m1 0h5m2 0h14m1 0h1M1475 93h16m2 0h2m1 0h3m2 0h7m594 0h1m3 0h5m1 0h15m1 0h2M1477 94h18m2 0h3m1 0h7m594 0h1m4 0h1m1 0h18m1 0h4M1477 95h18m3 0h9m600 0h1m1 0h18m1 0h4M1478 96h19m1 0h8m597 0h3m1 0h1m2 0h17m1 0h5M1479 97h5m1 0h4m1 0h3m2 0h11m597 0h5m2 0h17m1 0h4M1479 98h5m1 0h4m1 0h3m1 0h12m596 0h7m1 0h20m1 0h1M1480 99h6m2 0h5m2 0h5m1 0h3m598 0h14m1 0h2m1 0h3m1 0h4M1481 100h1m2 0h1m3 0h2m1 0h1m610 0h11m1 0h1m3 0h1m1 0h2m2 0h2m1 0h1M1484 101h1m4 0h1m1 0h1m610 0h12m2 0h1m3 0h2m3 0h1m1 0h1m10 0h1m1 0h4m1 0h1M2102 102h12m2 0h2m2 0h2m15 0h2m1 0h4m1 0h1M2102 103h12m1 0h3m2 0h2m15 0h2m1 0h6M2102 104h12m1 0h3m2 0h2m11 0h2m1 0h3m1 0h7M2102 105h7m1 0h5m1 0h2m2 0h1m12 0h2m1 0h11M2102 106h7m2 0h4m1 0h2m15 0h14M2102 107h7m2 0h4m2 0h1m15 0h14M2101 108h2m2 0h4m2 0h4m2 0h1m15 0h13M2102 109h1m2 0h4m2 0h4m1 0h2m2 0h2m11 0h13M2105 110h4m1 0h5m1 0h2m1 0h3m4 0h1m7 0h12M2106 111h3m1 0h5m1 0h9m1 0h1m7 0h12M2106 112h3m1 0h5m1 0h9m9 0h10m1 0h1M2106 113h19m9 0h4m1 0h5m1 0h1M2106 114h18m10 0h1m1 0h2m1 0h5m1 0h1M2106 115h18m12 0h8m1 0h1M2106 116h18m12 0h8m1 0h1M2106 117h17m13 0h8M2104 118h3m1 0h11m1 0h3m13 0h8M2104 119h3m1 0h11m1 0h2m13 0h9m3 0h1M2105 120h1m2 0h2m1 0h8m1 0h2m13 0h5m2 0h1M2105 121h1m3 0h1m1 0h8m1 0h3m12 0h1m2 0h1M2105 122h2m4 0h2m2 0h4m1 0h3M2111 123h2m2 0h4m1 0h4M2111 124h2m2 0h9M2111 125h2m2 0h9m32 0h1M2111 126h2m1 0h10m33 0h1M2111 127h13m1 0h1m27 0h1m3 0h1M2111 128h13m1 0h1m21 0h2m4 0h1m2 0h2M2111 129h13m1 0h1m16 0h1m1 0h1m1 0h4m3 0h1m2 0h2M2111 130h1m1 0h13m2 0h1m1 0h3m4 0h1m2 0h1m1 0h1m2 0h5m3 0h1m2 0h2M2113 131h13m2 0h8m1 0h1m2 0h1m1 0h1m2 0h5m3 0h1m2 0h2M2113 132h9m1 0h3m1 0h9m1 0h1m1 0h2m1 0h1m2 0h5m2 0h2m2 0h2M2113 133h9m1 0h3m1 0h9m1 0h1m1 0h4m2 0h6m1 0h3m1 0h2M2113 134h9m1 0h3m1 0h5m1 0h1m5 0h4m2 0h4m1 0h8M2113 135h9m1 0h3m1 0h5m1 0h1m1 0h1m3 0h4m2 0h2m3 0h8M2111 136h11m1 0h3m1 0h5m1 0h3m3 0h4m2 0h2m3 0h8M2102 137h1m4 0h1m3 0h5m1 0h5m1 0h3m1 0h5m1 0h3m3 0h4m3 0h1m3 0h8M2103 138h1m3 0h1m2 0h6m2 0h4m1 0h3m1 0h5m1 0h3m2 0h5m3 0h2m2 0h2m1 0h5M2100 139h2m1 0h2m2 0h1m2 0h6m2 0h4m1 0h3m1 0h5m1 0h3m1 0h6m3 0h2m2 0h2m1 0h5M2100 140h2m1 0h2m2 0h1m2 0h1m1 0h3m3 0h4m1 0h3m1 0h5m1 0h3m1 0h6m3 0h2m2 0h2m1 0h5M2068 141h1m1 0h2m28 0h2m1 0h1m3 0h1m2 0h1m1 0h3m3 0h4m1 0h3m1 0h5m1 0h3m1 0h6m3 0h3m1 0h2m1 0h5M2067 142h2m1 0h3m2 0h2m23 0h2m1 0h1m3 0h1m2 0h1m1 0h3m3 0h4m1 0h3m1 0h5m1 0h3m1 0h6m3 0h3m1 0h2m1 0h5M2067 143h2m1 0h4m1 0h2m8 0h2m13 0h2m1 0h1m3 0h2m1 0h5m3 0h8m1 0h5m1 0h3m1 0h6m2 0h7m1 0h5M2067 144h2m1 0h4m1 0h2m1 0h1m3 0h1m2 0h4m11 0h2m1 0h1m3 0h1m2 0h6m2 0h8m1 0h2m1 0h2m1 0h3m1 0h6m2 0h6m2 0h5M2065 145h1m1 0h2m1 0h4m1 0h2m1 0h1m1 0h1m1 0h2m1 0h4m1 0h1m9 0h2m1 0h1m3 0h1m2 0h6m2 0h3m1 0h4m1 0h2m2 0h1m1 0h3m1 0h6m2 0h6m3 0h4M2064 146h5m1 0h4m1 0h2m1 0h1m1 0h1m1 0h2m1 0h4m1 0h4m7 0h1m1 0h1m3 0h1m2 0h6m2 0h3m1 0h4m1 0h2m2 0h1m1 0h3m1 0h6m2 0h6m3 0h4M2065 147h4m1 0h4m1 0h4m1 0h1m1 0h2m1 0h4m1 0h5m3 0h2m1 0h1m1 0h1m3 0h1m2 0h6m2 0h3m1 0h4m1 0h1m3 0h1m1 0h11m1 0h6m1 0h6M2065 148h4m1 0h4m1 0h4m1 0h1m1 0h2m1 0h4m1 0h6m3 0h3m1 0h1m3 0h1m2 0h6m1 0h4m1 0h3m6 0h1m1 0h11m1 0h6m1 0h6M2059 149h2m4 0h4m1 0h9m3 0h2m1 0h4m1 0h6m3 0h1m1 0h1m1 0h1m3 0h2m2 0h5m1 0h4m1 0h3m6 0h1m1 0h2m1 0h8m1 0h6m1 0h2m1 0h1M2059 150h2m5 0h3m1 0h9m3 0h2m1 0h4m1 0h6m3 0h1m1 0h1m1 0h1m3 0h2m2 0h5m2 0h3m1 0h3m6 0h1m1 0h2m1 0h6m1 0h1m2 0h4M2059 151h2m5 0h13m3 0h2m1 0h3m1 0h7m3 0h1m1 0h1m1 0h1m3 0h2m3 0h4m3 0h2m1 0h3m2 0h1m3 0h1m1 0h2m1 0h3m1 0h1m5 0h2M2058 152h3m5 0h14m2 0h2m1 0h3m1 0h8m2 0h1m3 0h1m3 0h2m4 0h3m1 0h1m1 0h2m1 0h3m2 0h1m1 0h1m1 0h4m1 0h3m1 0h1M2058 153h3m5 0h3m1 0h10m2 0h2m1 0h3m1 0h8m2 0h1m3 0h1m3 0h3m3 0h2m2 0h1m2 0h1m1 0h3m2 0h1m1 0h1m1 0h4m1 0h3m1 0h1M2051 154h1m7 0h2m5 0h3m1 0h1m2 0h1m2 0h2m1 0h1m3 0h5m1 0h8m6 0h1m3 0h3m7 0h1m2 0h1m1 0h3m2 0h3m1 0h4m1 0h2M2047 155h1m3 0h1m7 0h2m5 0h3m1 0h1m5 0h2m1 0h2m2 0h5m1 0h8m6 0h1m3 0h3m7 0h1m2 0h1m1 0h3m2 0h3m1 0h4m1 0h2M2046 156h2m3 0h1m7 0h2m5 0h3m1 0h1m5 0h5m2 0h5m1 0h7m7 0h1m3 0h3m2 0h1m1 0h1m2 0h1m6 0h1m2 0h3m1 0h4m2 0h1M2046 157h2m3 0h1m7 0h1m2 0h2m2 0h5m2 0h1m2 0h5m2 0h5m1 0h7m7 0h1m3 0h4m1 0h1m1 0h1m2 0h1m6 0h1m2 0h3m1 0h3M2047 158h1m3 0h1m7 0h1m2 0h2m2 0h2m1 0h12m2 0h13m7 0h1m3 0h4m1 0h4m1 0h1m1 0h1m4 0h1m2 0h1m3 0h1M2045 159h1m1 0h1m11 0h1m2 0h3m1 0h2m1 0h1m1 0h10m2 0h14m2 0h1m3 0h1m2 0h1m1 0h3m1 0h4m1 0h1m1 0h1m4 0h1m2 0h1M2044 160h2m1 0h1m14 0h3m1 0h1m2 0h1m1 0h10m2 0h8m1 0h5m2 0h1m3 0h1m2 0h1m1 0h3m1 0h3m2 0h3m4 0h1M2044 161h2m1 0h1m14 0h3m1 0h1m4 0h8m1 0h1m2 0h3m1 0h4m1 0h5m2 0h1m3 0h1m2 0h1m1 0h3m2 0h2m2 0h3M2043 162h2m2 0h1m14 0h3m1 0h1m4 0h8m1 0h1m2 0h3m1 0h4m1 0h5m1 0h2m3 0h1m2 0h1m1 0h3m2 0h2m4 0h1M2043 163h2m1 0h2m6 0h1m8 0h4m1 0h1m2 0h8m1 0h1m2 0h3m1 0h4m1 0h4m2 0h2m3 0h1m2 0h1m1 0h3m2 0h2M1532 164h1m8 0h5m58 0h1m3 0h4m431 0h2m1 0h2m6 0h1m8 0h4m1 0h1m2 0h1m1 0h8m2 0h3m1 0h4m1 0h4m2 0h2m3 0h1m2 0h1m1 0h3m2 0h2M1532 165h3m3 0h8m56 0h4m1 0h5m431 0h2m2 0h1m2 0h1m3 0h1m9 0h3m1 0h1m2 0h1m1 0h8m2 0h3m1 0h4m1 0h4m1 0h4m2 0h1m2 0h1m1 0h3m2 0h2M1531 166h17m54 0h11m430 0h2m2 0h1m2 0h3m1 0h1m1 0h4m1 0h1m2 0h3m1 0h1m5 0h7m2 0h8m1 0h4m1 0h4m2 0h1m1 0h2m1 0h2m4 0h1M1530 167h18m54 0h11m430 0h2m5 0h3m1 0h1m2 0h3m1 0h1m2 0h3m1 0h1m5 0h7m2 0h8m1 0h2m3 0h4m2 0h1m2 0h1m1 0h2M1530 168h18m54 0h10m431 0h1m6 0h3m1 0h1m2 0h3m1 0h6m1 0h2m4 0h7m2 0h8m1 0h2m3 0h4m2 0h1M1530 169h18m54 0h10m1 0h1m26 0h2m2 0h4m395 0h1m6 0h5m2 0h14m3 0h3m1 0h1m1 0h2m1 0h8m6 0h4M1530 170h17m55 0h6m1 0h3m1 0h1m1 0h1m21 0h1m1 0h10m394 0h1m6 0h5m2 0h14m3 0h3m1 0h1m1 0h2m1 0h7m7 0h4M1530 171h11m1 0h4m57 0h5m1 0h3m1 0h1m1 0h1m20 0h15m392 0h1m6 0h5m2 0h14m3 0h2m2 0h1m1 0h2m1 0h7m7 0h4M1530 172h3m1 0h2m1 0h4m3 0h2m15 0h1m41 0h2m1 0h1m3 0h2m1 0h1m1 0h1m21 0h14m392 0h1m1 0h1m4 0h5m2 0h14m1 0h1m1 0h2m2 0h1m1 0h2m1 0h7m7 0h4M1531 173h1m2 0h2m1 0h2m22 0h1m3 0h1m1 0h2m3 0h1m30 0h1m6 0h2m25 0h14m7 0h2m21 0h2m359 0h4m4 0h5m2 0h14m1 0h1m1 0h2m2 0h1m1 0h2m1 0h7m7 0h4M1560 174h10m2 0h6m25 0h1m6 0h2m32 0h2m2 0h1m8 0h3m1 0h2m11 0h1m6 0h2m13 0h1m344 0h5m5 0h4m2 0h5m1 0h8m1 0h1m1 0h2m2 0h1m1 0h2m1 0h7m2 0h1m4 0h4M1560 175h10m2 0h2m1 0h6m3 0h6m20 0h2m45 0h3m1 0h2m10 0h2m6 0h2m9 0h1m3 0h3m342 0h5m5 0h1m1 0h2m2 0h5m1 0h8m1 0h1m1 0h1m3 0h1m1 0h2m1 0h7m2 0h3m2 0h4M1561 176h9m2 0h2m1 0h7m1 0h8m63 0h2m1 0h3m1 0h3m2 0h1m3 0h2m1 0h2m1 0h1m1 0h1m2 0h2m2 0h1m5 0h3m1 0h6m1 0h1m335 0h2m1 0h4m6 0h1m2 0h1m2 0h5m1 0h6m1 0h1m9 0h2m2 0h7m1 0h3m2 0h3M1558 177h1m2 0h10m1 0h2m1 0h16m61 0h4m1 0h3m1 0h3m1 0h2m3 0h2m1 0h2m1 0h1m1 0h2m1 0h2m2 0h1m5 0h2m2 0h10m9 0h1m323 0h2m1 0h4m9 0h1m3 0h4m1 0h6m11 0h1m3 0h7m2 0h2m2 0h3M1558 178h1m2 0h3m2 0h5m1 0h2m1 0h16m60 0h9m1 0h3m1 0h4m2 0h1m1 0h2m1 0h1m1 0h2m1 0h2m2 0h1m5 0h2m2 0h10m1 0h1m4 0h1m2 0h2m320 0h4m1 0h4m13 0h4m1 0h6m2 0h1m4 0h1m3 0h2m2 0h1m1 0h6m1 0h1m3 0h3M1539 179h1m21 0h3m2 0h5m1 0h2m1 0h13m1 0h1m60 0h10m1 0h3m1 0h4m2 0h1m1 0h2m1 0h1m1 0h2m1 0h3m1 0h1m5 0h2m2 0h13m3 0h1m1 0h3m318 0h11m13 0h4m1 0h6m2 0h1m8 0h2m2 0h1m1 0h1m1 0h4m1 0h1m3 0h2M1535 180h3m1 0h2m3 0h1m12 0h1m3 0h3m2 0h5m1 0h2m1 0h13m42 0h1m18 0h6m1 0h4m1 0h3m1 0h4m2 0h1m1 0h2m1 0h1m1 0h2m1 0h3m1 0h1m5 0h2m2 0h13m3 0h5m306 0h2m10 0h10m12 0h6m1 0h2m1 0h3m2 0h1m8 0h3m1 0h1m1 0h1m2 0h3m1 0h1m1 0h1m1 0h2M1535 181h11m10 0h2m1 0h1m1 0h3m1 0h6m1 0h2m1 0h8m1 0h3m41 0h1m1 0h1m1 0h1m2 0h1m2 0h1m10 0h6m1 0h3m2 0h3m1 0h1m1 0h2m2 0h1m1 0h2m1 0h1m1 0h2m1 0h3m1 0h1m5 0h2m2 0h13m1 0h7m4 0h1m291 0h1m3 0h1m5 0h1m11 0h10m12 0h6m1 0h2m1 0h2m3 0h1m8 0h3m1 0h1m1 0h1m2 0h3m1 0h1m1 0h4M1535 182h11m10 0h2m1 0h3m1 0h8m1 0h2m1 0h8m1 0h2m7 0h2m29 0h2m1 0h2m1 0h6m2 0h1m4 0h1m5 0h6m1 0h3m2 0h3m1 0h1m1 0h2m2 0h1m1 0h2m1 0h1m1 0h2m1 0h2m2 0h1m4 0h3m2 0h3m1 0h4m1 0h13m250 0h3m9 0h1m23 0h1m8 0h6m1 0h4m5 0h1m1 0h1m3 0h10m9 0h1m2 0h6m1 0h2m1 0h2m2 0h2m2 0h2m4 0h3m1 0h1m1 0h1m2 0h3m1 0h6M1535 183h1m1 0h9m13 0h3m1 0h8m1 0h2m1 0h8m1 0h2m7 0h2m1 0h2m1 0h1m1 0h2m3 0h4m2 0h5m1 0h1m4 0h16m2 0h1m1 0h1m2 0h1m2 0h10m2 0h3m1 0h1m1 0h2m2 0h1m1 0h2m1 0h1m1 0h2m1 0h3m6 0h2m3 0h2m2 0h4m1 0h13m250 0h7m1 0h2m2 0h1m23 0h20m5 0h1m1 0h1m2 0h11m9 0h1m3 0h8m1 0h6m2 0h3m3 0h3m1 0h4m1 0h3m1 0h4M1535 184h1m1 0h3m2 0h3m14 0h3m2 0h10m1 0h8m1 0h2m6 0h3m1 0h19m1 0h3m1 0h1m2 0h16m2 0h3m1 0h2m2 0h11m1 0h3m3 0h2m2 0h1m1 0h2m1 0h4m1 0h3m6 0h1m4 0h2m2 0h4m1 0h3m1 0h9m250 0h7m1 0h2m1 0h2m23 0h20m5 0h1m1 0h1m1 0h9m1 0h2m7 0h1m1 0h1m3 0h8m1 0h7m1 0h3m2 0h4m1 0h4m1 0h3m1 0h4M1559 185h2m3 0h19m1 0h1m7 0h12m1 0h10m1 0h3m1 0h1m2 0h12m1 0h3m2 0h3m1 0h2m2 0h11m1 0h1m1 0h1m3 0h2m2 0h4m1 0h3m2 0h4m5 0h1m4 0h2m2 0h4m1 0h3m1 0h5m1 0h3m251 0h6m2 0h1m1 0h2m22 0h21m4 0h2m1 0h1m1 0h9m1 0h2m7 0h1m1 0h1m3 0h15m2 0h3m2 0h4m1 0h8m1 0h3M1559 186h2m4 0h7m1 0h10m1 0h1m7 0h12m1 0h10m1 0h3m1 0h15m1 0h3m1 0h7m2 0h11m1 0h1m1 0h1m3 0h1m3 0h8m2 0h1m1 0h2m5 0h1m4 0h1m3 0h4m1 0h3m1 0h4m2 0h3m251 0h3m1 0h2m3 0h2m23 0h20m5 0h2m1 0h1m1 0h3m1 0h1m1 0h3m1 0h2m7 0h1m1 0h1m3 0h15m2 0h3m2 0h4m1 0h6m1 0h1m1 0h3m2 0h1M1565 187h2m1 0h1m1 0h2m2 0h2m1 0h6m9 0h12m1 0h10m1 0h3m1 0h10m1 0h4m1 0h11m2 0h3m4 0h4m1 0h1m1 0h1m3 0h1m3 0h3m1 0h3m3 0h1m1 0h2m14 0h1m1 0h2m1 0h3m2 0h2m3 0h3m252 0h2m1 0h2m3 0h3m22 0h20m2 0h2m1 0h2m1 0h1m1 0h3m1 0h1m1 0h3m1 0h2m7 0h1m1 0h1m3 0h11m1 0h1m1 0h1m2 0h3m2 0h11m1 0h5m2 0h1M1566 188h1m12 0h3m11 0h2m1 0h8m1 0h10m1 0h14m1 0h1m1 0h2m1 0h11m1 0h4m4 0h4m1 0h1m1 0h1m3 0h1m3 0h3m1 0h3m5 0h2m19 0h2m8 0h2m253 0h5m3 0h3m21 0h20m3 0h2m1 0h2m1 0h1m1 0h3m1 0h1m1 0h6m7 0h1m1 0h1m3 0h11m1 0h1m1 0h1m2 0h4m1 0h11m1 0h5m2 0h1M1594 189h1m2 0h7m1 0h6m3 0h1m1 0h14m1 0h4m1 0h5m2 0h4m1 0h12m1 0h1m1 0h1m3 0h1m3 0h3m1 0h1m1 0h1m5 0h1m285 0h2m1 0h2m2 0h4m21 0h20m3 0h2m1 0h2m1 0h1m1 0h3m1 0h1m1 0h6m6 0h2m5 0h5m1 0h5m1 0h1m1 0h1m2 0h4m1 0h11m1 0h5m2 0h1M1597 190h7m1 0h6m3 0h1m1 0h19m1 0h5m2 0h4m1 0h2m1 0h9m1 0h3m3 0h1m4 0h2m3 0h1m292 0h1m1 0h2m2 0h2m22 0h21m3 0h2m1 0h2m1 0h1m1 0h3m1 0h1m1 0h6m6 0h2m5 0h4m2 0h5m1 0h1m1 0h1m2 0h4m1 0h11m1 0h6m1 0h1M1597 191h4m1 0h1m2 0h3m2 0h1m3 0h1m1 0h19m1 0h5m2 0h4m1 0h1m2 0h9m316 0h1m21 0h22m4 0h2m1 0h2m1 0h1m1 0h5m1 0h6m6 0h2m5 0h4m2 0h7m1 0h1m2 0h4m1 0h11m1 0h6m1 0h1M1599 192h2m4 0h3m2 0h1m3 0h3m1 0h7m1 0h15m2 0h6m2 0h1m1 0h5m1 0h1m339 0h20m5 0h2m1 0h2m1 0h1m1 0h5m1 0h5m3 0h1m1 0h4m5 0h4m2 0h7m3 0h4m2 0h11m1 0h6m1 0h1m1 0h1M1599 193h2m4 0h1m1 0h1m2 0h1m3 0h3m1 0h3m1 0h2m2 0h7m3 0h1m2 0h1m3 0h6m2 0h1m2 0h1m1 0h2m343 0h1m1 0h16m5 0h2m1 0h4m1 0h4m2 0h5m3 0h1m2 0h3m2 0h1m2 0h4m2 0h7m3 0h3m3 0h9m1 0h8m1 0h1m1 0h1M1610 194h1m7 0h3m8 0h2m1 0h1m12 0h3m6 0h1m346 0h1m2 0h15m4 0h8m1 0h4m2 0h5m3 0h1m2 0h3m2 0h2m2 0h3m2 0h7m3 0h3m1 0h1m1 0h9m1 0h10m1 0h1M1641 195h1m363 0h14m1 0h1m2 0h4m1 0h8m2 0h5m3 0h1m2 0h3m2 0h2m2 0h3m2 0h2m1 0h4m3 0h5m2 0h8m1 0h10m1 0h1M2006 196h12m2 0h7m1 0h8m2 0h7m1 0h1m2 0h3m2 0h2m2 0h3m2 0h2m1 0h3m4 0h5m2 0h8m1 0h10M2006 197h12m2 0h3m1 0h3m1 0h8m2 0h7m1 0h1m2 0h3m2 0h2m3 0h2m2 0h2m1 0h2m5 0h4m3 0h19M2007 198h2m1 0h2m2 0h2m4 0h3m1 0h3m1 0h7m3 0h4m7 0h3m7 0h2m2 0h2m1 0h3m4 0h4m3 0h4m1 0h14M2010 199h2m2 0h2m4 0h3m1 0h3m1 0h6m6 0h2m7 0h3m7 0h2m2 0h2m1 0h3m4 0h4m3 0h4m1 0h14M2025 200h2m1 0h1m2 0h1m9 0h1m7 0h3m7 0h2m2 0h2m1 0h3m4 0h4m3 0h4m2 0h2m1 0h10M2049 201h3m7 0h2m2 0h6m4 0h4m2 0h5m2 0h2m1 0h10M2050 202h2m7 0h2m2 0h6m4 0h4m2 0h5m2 0h2m1 0h10M2050 203h2m3 0h1m3 0h2m2 0h5m5 0h4m1 0h6m2 0h1m2 0h9M2051 204h1m3 0h1m3 0h3m1 0h5m5 0h3m2 0h6m2 0h1m2 0h9m3 0h1M2059 205h3m1 0h5m5 0h3m2 0h6m2 0h1m2 0h9M2059 206h3m1 0h5m5 0h2m3 0h6m1 0h2m2 0h6m1 0h2M2059 207h9m5 0h2m3 0h6m1 0h2m1 0h4m1 0h2m1 0h2M2059 208h9m5 0h2m3 0h1m1 0h4m1 0h2m1 0h4m1 0h2m2 0h1M2059 209h9m5 0h2m3 0h1m1 0h4m1 0h2m1 0h7m2 0h1M2061 210h1m1 0h4m6 0h2m2 0h2m1 0h4m1 0h2m1 0h5m1 0h2m1 0h2M2061 211h1m2 0h3m6 0h2m2 0h2m1 0h4m1 0h2m2 0h2m1 0h1m1 0h2m1 0h2M2073 212h2m2 0h2m1 0h4m1 0h3m1 0h2m1 0h1m1 0h2m2 0h1M2072 213h3m1 0h3m1 0h8m1 0h1m2 0h1m1 0h2m2 0h1M2072 214h3m1 0h3m1 0h8m1 0h1m2 0h1m1 0h2m2 0h2M2072 215h3m1 0h3m1 0h8m1 0h1m2 0h1m1 0h2m1 0h3M2072 216h3m1 0h3m1 0h4m1 0h3m1 0h2m1 0h1m1 0h2m1 0h3M2073 217h2m1 0h3m1 0h4m1 0h3m1 0h2m1 0h1m1 0h2m1 0h2M2073 218h2m1 0h3m2 0h3m2 0h2m1 0h2m1 0h1m1 0h2m1 0h2M2073 219h6m2 0h3m2 0h2m1 0h2m1 0h1m1 0h1m2 0h2m2 0h1M2073 220h11m2 0h2m1 0h2m1 0h1m1 0h1m2 0h2m2 0h1M2073 221h18m1 0h1m1 0h1m2 0h2m2 0h1M2074 222h19m1 0h1m1 0h3M2074 223h1m1 0h5m1 0h2m2 0h10m1 0h2M81 304h2M78 305h1m1 0h4M78 306h1m1 0h6M78 307h1m1 0h6M78 308h1m1 0h6M80 309h6M80 310h3m1 0h2M80 311h3m1 0h3M80 312h3m2 0h2m46 0h1M80 313h3m26 0h5m7 0h1m5 0h2m4 0h1M81 314h1m26 0h7m1 0h1m2 0h10m3 0h3M108 315h21m1 0h1m1 0h4M108 316h6m1 0h14m1 0h6M108 317h5m2 0h14m1 0h7M108 318h5m2 0h1m1 0h3m1 0h8m1 0h7M109 319h4m2 0h1m1 0h3m2 0h7m1 0h7M109 320h4m2 0h1m1 0h3m2 0h3m1 0h3m1 0h7M109 321h2m1 0h1m2 0h1m2 0h1m7 0h2m2 0h3m1 0h2M110 322h1m16 0h1m2 0h1"/>
</g>
</g>
<g clip-path="url(#ax)" fill="#f00" shape-rendering="crispEdges">
<path d="M431.6 1197.5L475 1197.5L453.3 1160.5ZM476.5 1158.8L519.9 1158.8L498.2 1121.8ZM521.5 1159.7L564.9 1159.7L543.2 1122.7ZM566.4 1116.5L609.8 1116.5L588.1 1079.5ZM611.4 1252L654.8 1252L633.1 1215ZM656.3 1137.6L699.7 1137.6L678 1100.6ZM701.3 1157L744.7 1157L723 1120ZM746.2 1180L789.6 1180L767.9 1143ZM2499.2 1254L2542.6 1254L2520.9 1217ZM2544.2 1254L2587.6 1254L2565.9 1217ZM2589.1 1200.7L2632.5 1200.7L2610.8 1163.7ZM2634 1200.7L2677.4 1200.7L2655.7 1163.7ZM2679 1200.7L2722.4 1200.7L2700.7 1163.7ZM2723.9 1190L2767.3 1190L2745.6 1153ZM2768.9 1253L2812.3 1253L2790.6 1216ZM2813.8 1253L2857.2 1253L2835.5 1216ZM2858.8 1189L2902.2 1189L2880.5 1152ZM2948.7 1184.9L2992.1 1184.9L2970.4 1147.9ZM2993.6 1170.8L3037 1170.8L3015.3 1133.8ZM3218.4 1253L3261.8 1253L3240.1 1216ZM3263.3 414.9L3306.7 414.9L3285 377.9ZM3308.3 447L3351.7 447L3330 410ZM3667.9 726.4L3711.3 726.4L3689.6 689.4ZM3712.8 722L3756.2 722L3734.5 685ZM3802.7 344.3L3846.1 344.3L3824.4 307.3ZM3847.6 343.5L3891 343.5L3869.3 306.5ZM3892.6 302L3936 302L3914.3 265ZM3982.5 344.3L4025.9 344.3L4004.2 307.3ZM4027.4 353.7L4070.8 353.7L4049.1 316.7ZM4072.4 349.3L4115.8 349.3L4094.1 312.3ZM4117.3 358.5L4160.7 358.5L4139 321.5ZM4162.3 352.6L4205.7 352.6L4184 315.6ZM4252.2 288.9L4295.6 288.9L4273.9 251.9ZM4207.2 1252L4250.6 1252L4228.9 1215ZM4342.1 751.5L4385.5 751.5L4363.8 714.5ZM4387 753L4430.4 753L4408.7 716ZM4432 775.4L4475.4 775.4L4453.7 738.4ZM4476.9 820.4L4520.3 820.4L4498.6 783.4ZM4521.9 676.5L4565.3 676.5L4543.6 639.5ZM4566.8 622.4L4610.2 622.4L4588.5 585.4ZM4611.8 595.2L4655.2 595.2L4633.5 558.2ZM475 1060.9L431.6 1060.9L453.3 1097.9ZM519.9 1091L476.5 1091L498.2 1128ZM564.9 1054L521.5 1054L543.2 1091ZM609.8 1058L566.4 1058L588.1 1095ZM699.7 1076L656.3 1076L678 1113ZM744.7 1088L701.3 1088L723 1125ZM789.6 1086.5L746.2 1086.5L767.9 1123.5ZM2632.5 1144.8L2589.1 1144.8L2610.8 1181.8ZM2677.4 1149.2L2634 1149.2L2655.7 1186.2ZM2722.4 1149.2L2679 1149.2L2700.7 1186.2ZM2767.3 1137.5L2723.9 1137.5L2745.6 1174.5ZM2902.2 1137.5L2858.8 1137.5L2880.5 1174.5ZM2992.1 1110.4L2948.7 1110.4L2970.4 1147.4ZM3037 1110.4L2993.6 1110.4L3015.3 1147.4ZM3306.7 307.2L3263.3 307.2L3285 344.2ZM3351.7 280.1L3308.3 280.1L3330 317.1ZM3711.3 661L3667.9 661L3689.6 698ZM3756.2 663.2L3712.8 663.2L3734.5 700.2ZM3846.1 201.3L3802.7 201.3L3824.4 238.3ZM3891 225.2L3847.6 225.2L3869.3 262.2ZM3936 191.1L3892.6 191.1L3914.3 228.1ZM4025.9 223L3982.5 223L4004.2 260ZM4070.8 237.2L4027.4 237.2L4049.1 274.2ZM4115.8 248L4072.4 248L4094.1 285ZM4160.7 241.1L4117.3 241.1L4139 278.1ZM4205.7 283.9L4162.3 283.9L4184 320.9ZM4295.6 205.2L4252.2 205.2L4273.9 242.2ZM4385.5 688L4342.1 688L4363.8 725ZM4430.4 679.1L4387 679.1L4408.7 716.1ZM4475.4 611.3L4432 611.3L4453.7 648.3ZM4520.3 566.3L4476.9 566.3L4498.6 603.3ZM4565.3 571.3L4521.9 571.3L4543.6 608.3ZM4610.2 559.3L4566.8 559.3L4588.5 596.3ZM4655.2 539.1L4611.8 539.1L4633.5 576.1Z"/>
</g>
<g clip-path="url(#ax)" shape-rendering="crispEdges">
<path d="M408.3 1112.8V1119M374.3 1112.8H442.3M374.3 1119H442.3M453.3 1113V1119M419.3 1113H487.3M419.3 1119H487.3M498.2 1092V1100M464.2 1092H532.2M464.2 1100H532.2M543.2 1030.6V1050.4M509.2 1030.6H577.2M509.2 1050.4H577.2M588.1 1042.6V1060.4M554.1 1042.6H622.1M554.1 1060.4H622.1M633.1 1102.5V1110.5M599.1 1102.5H667.1M599.1 1110.5H667.1M678 1102V1112M644 1102H712M644 1112H712M723 1062.6V1073.5M689 1062.6H757M689 1073.5H757M767.9 1086V1097M733.9 1086H801.9M733.9 1097H801.9M812.9 1094V1108M778.9 1094H846.9M778.9 1108H846.9M2431 1070.3V1121.6M2397 1070.3H2465M2397 1121.6H2465M2655.7 874.7V890M2621.7 874.7H2689.7M2621.7 890H2689.7M2700.7 863V879.3M2666.7 863H2734.7M2666.7 879.3H2734.7M2790.6 878.4V919.9M2756.6 878.4H2824.6M2756.6 919.9H2824.6M2880.5 561.8V619.1M2846.5 561.8H2914.5M2846.5 619.1H2914.5M3060.3 745.2V759.6M3026.3 745.2H3094.3M3026.3 759.6H3094.3M3150.2 881.7V926.4M3116.2 881.7H3184.2M3116.2 926.4H3184.2M3195.1 849V898M3161.1 849H3229.1M3161.1 898H3229.1M3285 852.3V896.1M3251 852.3H3319M3251 896.1H3319M4228.9 815.5V854.2M4194.9 815.5H4262.9M4194.9 854.2H4262.9" fill="none" stroke="#32cd32" stroke-width="5"/>
</g><g clip-path="url(#ax)" shape-rendering="crispEdges">
<circle cx="408.3" cy="1115.9" r="21" fill="#32cd32"/>
<circle cx="453.3" cy="1115.9" r="21" fill="#32cd32"/>
<circle cx="498.2" cy="1095.9" r="21" fill="#32cd32"/>
<circle cx="543.2" cy="1040.9" r="21" fill="#32cd32"/>
<circle cx="588.1" cy="1051.7" r="21" fill="#32cd32"/>
<circle cx="633.1" cy="1106.5" r="21" fill="#32cd32"/>
<circle cx="678" cy="1107.8" r="21" fill="#32cd32"/>
<circle cx="723" cy="1067.4" r="21" fill="#32cd32"/>
<circle cx="767.9" cy="1091.5" r="21" fill="#32cd32"/>
<circle cx="812.9" cy="1101" r="21" fill="#32cd32"/>
<circle cx="2431" cy="1097.4" r="21" fill="#32cd32"/>
<circle cx="2655.7" cy="882.6" r="21" fill="#32cd32"/>
<circle cx="2700.7" cy="871" r="21" fill="#32cd32"/>
<circle cx="2790.6" cy="899.4" r="21" fill="#32cd32"/>
<circle cx="2880.5" cy="589.8" r="21" fill="#32cd32"/>
<circle cx="3060.3" cy="752.2" r="21" fill="#32cd32"/>
<circle cx="3150.2" cy="904" r="21" fill="#32cd32"/>
<circle cx="3195.1" cy="873.3" r="21" fill="#32cd32"/>
<circle cx="3285" cy="874.2" r="21" fill="#32cd32"/>
<circle cx="4228.9" cy="835.1" r="21" fill="#32cd32"/>
</g>
<g clip-path="url(#ax)" shape-rendering="crispEdges">
<path d="M2610.8 923.6V939.4M2576.8 923.6H2644.8M2576.8 939.4H2644.8M2745.6 1171.3V1204M2711.6 1171.3H2779.6M2711.6 1204H2779.6M2925.4 1055.8V1070.6M2891.4 1055.8H2959.4M2891.4 1070.6H2959.4M3105.2 1217.3V1233M3071.2 1217.3H3139.2M3071.2 1233H3139.2M3374.9 1208.8V1239M3340.9 1208.8H3408.9M3340.9 1239H3408.9M3419.9 1194.7V1253M3385.9 1194.7H3453.9M3385.9 1253H3453.9M3464.8 1184.4V1263M3430.8 1184.4H3498.8M3430.8 1263H3498.8M3509.8 1194.7V1253M3475.8 1194.7H3543.8M3475.8 1253H3543.8M3554.7 1182.8V1246M3520.7 1182.8H3588.7M3520.7 1246H3588.7M3599.7 1182.8V1243M3565.7 1182.8H3633.7M3565.7 1243H3633.7M3644.6 1199.2V1246M3610.6 1199.2H3678.6M3610.6 1246H3678.6M3689.6 1197.1V1248M3655.6 1197.1H3723.6M3655.6 1248H3723.6M3734.5 1168.3V1244M3700.5 1168.3H3768.5M3700.5 1244H3768.5M3779.4 1197V1249M3745.4 1197H3813.4M3745.4 1249H3813.4M3824.4 1190V1241M3790.4 1190H3858.4M3790.4 1241H3858.4M3869.3 1166.5V1241M3835.3 1166.5H3903.3M3835.3 1241H3903.3M3914.3 1198.4V1247M3880.3 1198.4H3948.3M3880.3 1247H3948.3M3959.2 1178.6V1248M3925.2 1178.6H3993.2M3925.2 1248H3993.2M4004.2 1178.6V1248M3970.2 1178.6H4038.2M3970.2 1248H4038.2M4094.1 1196.8V1252M4060.1 1196.8H4128.1M4060.1 1252H4128.1M4139 1209V1240M4105 1209H4173M4105 1240H4173M4184 1177.5V1240M4150 1177.5H4218M4150 1240H4218M4318.8 1214.5V1235M4284.8 1214.5H4352.8M4284.8 1235H4352.8M4408.7 1132.7V1152.5M4374.7 1132.7H4442.7M4374.7 1152.5H4442.7M4498.6 1065.6V1165.4M4464.6 1065.6H4532.6M4464.6 1165.4H4532.6M4543.6 1120.5V1172.8M4509.6 1120.5H4577.6M4509.6 1172.8H4577.6M4588.5 1120.5V1171.2M4554.5 1120.5H4622.5M4554.5 1171.2H4622.5M4633.5 1211.6V1241M4599.5 1211.6H4667.5M4599.5 1241H4667.5" fill="none" stroke="#32cd32" stroke-width="5"/>
</g><g clip-path="url(#ax)" shape-rendering="crispEdges">
<circle cx="2610.8" cy="931.5" r="17.7" fill="#fff" stroke="#32cd32" stroke-width="6.6"/>
<circle cx="2745.6" cy="1187.3" r="17.7" fill="#fff" stroke="#32cd32" stroke-width="6.6"/>
<circle cx="2925.4" cy="1062.5" r="17.7" fill="#fff" stroke="#32cd32" stroke-width="6.6"/>
<circle cx="3105.2" cy="1225" r="17.7" fill="#fff" stroke="#32cd32" stroke-width="6.6"/>
<circle cx="3374.9" cy="1223.9" r="17.7" fill="#fff" stroke="#32cd32" stroke-width="6.6"/>
<circle cx="3419.9" cy="1223.9" r="17.7" fill="#fff" stroke="#32cd32" stroke-width="6.6"/>
<circle cx="3464.8" cy="1223.9" r="17.7" fill="#fff" stroke="#32cd32" stroke-width="6.6"/>
<circle cx="3509.8" cy="1223.9" r="17.7" fill="#fff" stroke="#32cd32" stroke-width="6.6"/>
<circle cx="3554.7" cy="1214.7" r="17.7" fill="#fff" stroke="#32cd32" stroke-width="6.6"/>
<circle cx="3599.7" cy="1212.8" r="17.7" fill="#fff" stroke="#32cd32" stroke-width="6.6"/>
<circle cx="3644.6" cy="1222.6" r="17.7" fill="#fff" stroke="#32cd32" stroke-width="6.6"/>
<circle cx="3689.6" cy="1222.6" r="17.7" fill="#fff" stroke="#32cd32" stroke-width="6.6"/>
<circle cx="3734.5" cy="1206.2" r="17.7" fill="#fff" stroke="#32cd32" stroke-width="6.6"/>
<circle cx="3779.4" cy="1223" r="17.7" fill="#fff" stroke="#32cd32" stroke-width="6.6"/>
<circle cx="3824.4" cy="1215.5" r="17.7" fill="#fff" stroke="#32cd32" stroke-width="6.6"/>
<circle cx="3869.3" cy="1203.6" r="17.7" fill="#fff" stroke="#32cd32" stroke-width="6.6"/>
<circle cx="3914.3" cy="1222.6" r="17.7" fill="#fff" stroke="#32cd32" stroke-width="6.6"/>
<circle cx="3959.2" cy="1213.3" r="17.7" fill="#fff" stroke="#32cd32" stroke-width="6.6"/>
<circle cx="4004.2" cy="1213.3" r="17.7" fill="#fff" stroke="#32cd32" stroke-width="6.6"/>
<circle cx="4094.1" cy="1224.4" r="17.7" fill="#fff" stroke="#32cd32" stroke-width="6.6"/>
<circle cx="4139" cy="1224.4" r="17.7" fill="#fff" stroke="#32cd32" stroke-width="6.6"/>
<circle cx="4184" cy="1208.6" r="17.7" fill="#fff" stroke="#32cd32" stroke-width="6.6"/>
<circle cx="4318.8" cy="1224.4" r="17.7" fill="#fff" stroke="#32cd32" stroke-width="6.6"/>
<circle cx="4408.7" cy="1142.4" r="17.7" fill="#fff" stroke="#32cd32" stroke-width="6.6"/>
<circle cx="4498.6" cy="1114.7" r="17.7" fill="#fff" stroke="#32cd32" stroke-width="6.6"/>
<circle cx="4543.6" cy="1146.9" r="17.7" fill="#fff" stroke="#32cd32" stroke-width="6.6"/>
<circle cx="4588.5" cy="1146.9" r="17.7" fill="#fff" stroke="#32cd32" stroke-width="6.6"/>
<circle cx="4633.5" cy="1226.4" r="17.7" fill="#fff" stroke="#32cd32" stroke-width="6.6"/>
</g>
<g clip-path="url(#ax)" shape-rendering="crispEdges">
<path d="M2520.9 305.4V349.5M2486.9 305.4H2554.9M2486.9 349.5H2554.9M2565.9 318.7V353.5M2531.9 318.7H2599.9M2531.9 353.5H2599.9M2835.5 485.4V542.3M2801.5 485.4H2869.5M2801.5 542.3H2869.5M2970.4 641.5V671.3M2936.4 641.5H3004.4M2936.4 671.3H3004.4M3015.3 767.5V780.6M2981.3 767.5H3049.3M2981.3 780.6H3049.3M3240.1 760.6V794.6M3206.1 760.6H3274.1M3206.1 794.6H3274.1M3330 686.7V819.7M3296 686.7H3364M3296 819.7H3364M4049.1 100V167.2M4015.1 100H4083.1M4015.1 167.2H4083.1M4273.9 735.2V815.2M4239.9 735.2H4307.9M4239.9 815.2H4307.9M4363.8 746.1V775.4M4329.8 746.1H4397.8M4329.8 775.4H4397.8M4453.7 754.1V847.6M4419.7 754.1H4487.7M4419.7 847.6H4487.7" fill="none" stroke="#0000ff" stroke-width="5"/>
</g><g clip-path="url(#ax)" shape-rendering="crispEdges">
<circle cx="2520.9" cy="326.8" r="21" fill="#0000ff"/>
<circle cx="2565.9" cy="335.6" r="21" fill="#0000ff"/>
<circle cx="2835.5" cy="514.3" r="21" fill="#0000ff"/>
<circle cx="2970.4" cy="656.4" r="21" fill="#0000ff"/>
<circle cx="3015.3" cy="773.6" r="21" fill="#0000ff"/>
<circle cx="3240.1" cy="776.9" r="21" fill="#0000ff"/>
<circle cx="3330" cy="752.6" r="21" fill="#0000ff"/>
<circle cx="4049.1" cy="133" r="21" fill="#0000ff"/>
<circle cx="4273.9" cy="774.8" r="21" fill="#0000ff"/>
<circle cx="4363.8" cy="760.9" r="21" fill="#0000ff"/>
<circle cx="4453.7" cy="800.9" r="21" fill="#0000ff"/>
</g>
<g clip-path="url(#ax)" shape-rendering="crispEdges">
<path d="M2610.8 190.6V480.3M2576.8 190.6H2644.8M2576.8 480.3H2644.8M2745.6 452.4V532M2711.6 452.4H2779.6M2711.6 532H2779.6M2925.4 240.4V434.2M2891.4 240.4H2959.4M2891.4 434.2H2959.4M3105.2 258.1V301.4M3071.2 258.1H3139.2M3071.2 301.4H3139.2M3374.9 223.4V301.2M3340.9 223.4H3408.9M3340.9 301.2H3408.9M3419.9 279.8V325.7M3385.9 279.8H3453.9M3385.9 325.7H3453.9M3464.8 243.2V286.3M3430.8 243.2H3498.8M3430.8 286.3H3498.8M3509.8 269.5V315.2M3475.8 269.5H3543.8M3475.8 315.2H3543.8M3554.7 294.9V353.4M3520.7 294.9H3588.7M3520.7 353.4H3588.7M3599.7 286.5V357.6M3565.7 286.5H3633.7M3565.7 357.6H3633.7M3644.6 288.4V346.4M3610.6 288.4H3678.6M3610.6 346.4H3678.6M3689.6 390.6V446.8M3655.6 390.6H3723.6M3655.6 446.8H3723.6M3734.5 290.2V353.4M3700.5 290.2H3768.5M3700.5 353.4H3768.5M3779.4 290.7V344.5M3745.4 290.7H3813.4M3745.4 344.5H3813.4M3824.4 284.6V374.3M3790.4 284.6H3858.4M3790.4 374.3H3858.4M3869.3 284.6V377M3835.3 284.6H3903.3M3835.3 377H3903.3M3914.3 283.5V342.2M3880.3 283.5H3948.3M3880.3 342.2H3948.3M3959.2 286V374.3M3925.2 286H3993.2M3925.2 374.3H3993.2M4004.2 286V374.3M3970.2 286H4038.2M3970.2 374.3H4038.2M4094.1 285.2V330.7M4060.1 285.2H4128.1M4060.1 330.7H4128.1M4139 283V350.2M4105 283H4173M4105 350.2H4173M4184 355.2V421M4150 355.2H4218M4150 421H4218M4318.8 277.4V387.2M4284.8 277.4H4352.8M4284.8 387.2H4352.8M4408.7 202.4V472.4M4374.7 202.4H4442.7M4374.7 472.4H4442.7M4498.6 452.6V514.6M4464.6 452.6H4532.6M4464.6 514.6H4532.6M4543.6 324.8V393.3M4509.6 324.8H4577.6M4509.6 393.3H4577.6M4588.5 319.6V384.6M4554.5 319.6H4622.5M4554.5 384.6H4622.5M4633.5 285.2V375.9M4599.5 285.2H4667.5M4599.5 375.9H4667.5M4678.4 257.4V257.4M4644.4 257.4H4712.4M4644.4 257.4H4712.4" fill="none" stroke="#0000ff" stroke-width="5"/>
</g><g clip-path="url(#ax)" shape-rendering="crispEdges">
<circle cx="2610.8" cy="335" r="17.7" fill="#fff" stroke="#0000ff" stroke-width="6.6"/>
<circle cx="2745.6" cy="492.4" r="17.7" fill="#fff" stroke="#0000ff" stroke-width="6.6"/>
<circle cx="2925.4" cy="337.3" r="17.7" fill="#fff" stroke="#0000ff" stroke-width="6.6"/>
<circle cx="3105.2" cy="280" r="17.7" fill="#fff" stroke="#0000ff" stroke-width="6.6"/>
<circle cx="3374.9" cy="261.8" r="17.7" fill="#fff" stroke="#0000ff" stroke-width="6.6"/>
<circle cx="3419.9" cy="302.4" r="17.7" fill="#fff" stroke="#0000ff" stroke-width="6.6"/>
<circle cx="3464.8" cy="264.2" r="17.7" fill="#fff" stroke="#0000ff" stroke-width="6.6"/>
<circle cx="3509.8" cy="291.9" r="17.7" fill="#fff" stroke="#0000ff" stroke-width="6.6"/>
<circle cx="3554.7" cy="324" r="17.7" fill="#fff" stroke="#0000ff" stroke-width="6.6"/>
<circle cx="3599.7" cy="322.4" r="17.7" fill="#fff" stroke="#0000ff" stroke-width="6.6"/>
<circle cx="3644.6" cy="317.7" r="17.7" fill="#fff" stroke="#0000ff" stroke-width="6.6"/>
<circle cx="3689.6" cy="418.4" r="17.7" fill="#fff" stroke="#0000ff" stroke-width="6.6"/>
<circle cx="3734.5" cy="322.4" r="17.7" fill="#fff" stroke="#0000ff" stroke-width="6.6"/>
<circle cx="3779.4" cy="317.7" r="17.7" fill="#fff" stroke="#0000ff" stroke-width="6.6"/>
<circle cx="3824.4" cy="330.2" r="17.7" fill="#fff" stroke="#0000ff" stroke-width="6.6"/>
<circle cx="3869.3" cy="330.2" r="17.7" fill="#fff" stroke="#0000ff" stroke-width="6.6"/>
<circle cx="3914.3" cy="312.8" r="17.7" fill="#fff" stroke="#0000ff" stroke-width="6.6"/>
<circle cx="3959.2" cy="330.2" r="17.7" fill="#fff" stroke="#0000ff" stroke-width="6.6"/>
<circle cx="4004.2" cy="330.2" r="17.7" fill="#fff" stroke="#0000ff" stroke-width="6.6"/>
<circle cx="4094.1" cy="308.5" r="17.7" fill="#fff" stroke="#0000ff" stroke-width="6.6"/>
<circle cx="4139" cy="317.2" r="17.7" fill="#fff" stroke="#0000ff" stroke-width="6.6"/>
<circle cx="4184" cy="387.8" r="17.7" fill="#fff" stroke="#0000ff" stroke-width="6.6"/>
<circle cx="4318.8" cy="332.4" r="17.7" fill="#fff" stroke="#0000ff" stroke-width="6.6"/>
<circle cx="4408.7" cy="337.2" r="17.7" fill="#fff" stroke="#0000ff" stroke-width="6.6"/>
<circle cx="4498.6" cy="483.7" r="17.7" fill="#fff" stroke="#0000ff" stroke-width="6.6"/>
<circle cx="4543.6" cy="358.5" r="17.7" fill="#fff" stroke="#0000ff" stroke-width="6.6"/>
<circle cx="4588.5" cy="351.3" r="17.7" fill="#fff" stroke="#0000ff" stroke-width="6.6"/>
<circle cx="4633.5" cy="331.7" r="17.7" fill="#fff" stroke="#0000ff" stroke-width="6.6"/>
<circle cx="4678.4" cy="300" r="17.7" fill="#fff" stroke="#0000ff" stroke-width="6.6"/>
</g>
<g clip-path="url(#ax)" fill="none" stroke="#000" stroke-width="5" stroke-linejoin="round">
<path d="M878.7 141L833 160.5L809.8 167.3L879.8 189.6L1059.5 184.5L1239.2 182.2L1419 185.9L1598.8 178L1778.5 186.8L1958.2 190.1L2138 186.8L2317.8 186.8L2497.5 193.8L2677.2 192.9L2857 190.6L3036.8 186.8L3216.5 182.2L3396.2 178.9L3576 178.9L3755.8 178L3935.5 176.6L4115.2 176.6L4295 175.7L4474.8 175.2L4654.5 174.7"/>
<path d="M340.5 451.4L520.2 447.7L700 445.8L879.8 438.8L1059.5 435.1L1239.2 428.1L1419 419.3L1598.8 417L1778.5 412.8L1958.2 409.5L2014.5 408.5"/>
<path d="M2118 406.6L2138 406.2L2317.8 404.8L2497.5 400.2L2677.2 396.5L2857 391.8L3036.8 389L3216.5 386.7L3396.2 385.3L3576 385.3L3755.8 384.3L3935.5 383.9L4115.2 382.5L4295 381.5L4474.8 380.6L4654.5 379.7"/>
<path d="M340.5 691.3L520.2 691.3L700 677.4L879.8 663.4L1059.5 654L1239.2 646L1419 637.8L1598.8 633L1778.5 628.4L1958.2 623.8L2014.5 622.6"/>
<path d="M2118 620.4L2138 620L2317.8 614.5L2497.5 611.2L2677.2 608.8L2857 607.5L3036.8 609.8L3216.5 613.1L3396.2 615.9L3576 615.4L3755.8 614.5L3935.5 616.8L4115.2 619.1L4295 622.9L4474.8 630.8L4654.5 641"/>
<path d="M340.5 996.2L380 993.5L520.2 1000.5L700 1015.2L879.8 1020.7L1059.5 1019L1239.2 1012L1419 1003.4L1598.8 987.4L1778.5 980.9L1958.2 976.2L2014.5 975.5"/>
<path d="M2118 974.2L2138 973.9L2317.8 972.5L2497.5 973.9L2677.2 969.5L2857 969.3L3036.8 963.2L3216.5 951.5L3396.2 940.8L3576 931.5L3755.8 922L3935.5 917.5L4115.2 917.5L4295 917.5L4474.8 917.5L4654.5 932.9"/>
<path d="M340.5 1145.7L520.2 1155.4L700 1163L879.8 1166.3L1059.5 1167.4L1239.2 1167L1419 1167.5L1598.8 1167.7L1778.5 1165.8L1958.2 1166.8L2138 1173.3L2317.8 1176L2497.5 1167.2L2677.2 1163.5L2857 1162.1L2887.4 1161.8"/>
<path d="M2992 1161.3L3036.8 1161.3L3208 1161.3L3270.6 1159L3317 1156.7L3331 1154.8L3335 1153.6L3331 1152.6L3317 1151.2L3270.6 1146.6L3216.5 1141.9L3115 1137.3L3036.8 1133.4L2960 1128.7L2857 1126.2L2790.6 1123.9L2744 1122.6L2677.2 1119.7L2635.3 1117.6L2588.7 1113.8L2542 1110.7L2509.5 1107.5L2495.5 1100.6L2245.4 1084.3L2245.4 1078.4L2256.5 1068.4L2284.8 1065.9L2317.1 1063.9L2341 1065.6L2497 1085.3L2542 1073.4L2588.7 1066.4L2635 1062.5L2677.2 1060.2L2744 1057.9L2790.6 1056.8L2857 1054.8L3036.8 1049.4L3216.5 1045.6L3396.2 1043.3L3576 1040.5L3755.8 1038.4L3935.5 1035.4L4115.2 1040L4151 1041.5L4295 1040L4474.8 1028.4L4654.5 1043.8"/>
</g>
<g class="lb" font-size="58.33" text-anchor="middle" fill="#000">
<text x="2065.7" y="428.3">230</text>
<text x="2065.7" y="642.4">250</text>
<text x="2065.7" y="995.8">273</text>
<text x="2939.7" y="1181.4">279</text>
</g>
<g fill="#000" shape-rendering="crispEdges">
<rect x="337" y="139" width="7" height="1089"/>
<rect x="337" y="1221" width="4321" height="7"/>
<rect x="337" y="139" width="106" height="7"/>
<rect x="337" y="274" width="106" height="7"/>
<rect x="337" y="410" width="106" height="7"/>
<rect x="337" y="545" width="106" height="7"/>
<rect x="337" y="680" width="106" height="7"/>
<rect x="337" y="815" width="106" height="7"/>
<rect x="337" y="950" width="106" height="7"/>
<rect x="337" y="1086" width="106" height="7"/>
<rect x="337" y="1221" width="106" height="7"/>
<rect x="337" y="1144" width="7" height="80"/>
<rect x="427" y="1183" width="7" height="41"/>
<rect x="517" y="1183" width="7" height="41"/>
<rect x="607" y="1183" width="7" height="41"/>
<rect x="696" y="1144" width="7" height="80"/>
<rect x="786" y="1183" width="7" height="41"/>
<rect x="876" y="1183" width="7" height="41"/>
<rect x="966" y="1183" width="7" height="41"/>
<rect x="1056" y="1144" width="7" height="80"/>
<rect x="1146" y="1183" width="7" height="41"/>
<rect x="1236" y="1183" width="7" height="41"/>
<rect x="1326" y="1183" width="7" height="41"/>
<rect x="1416" y="1144" width="7" height="80"/>
<rect x="1505" y="1183" width="7" height="41"/>
<rect x="1595" y="1183" width="7" height="41"/>
<rect x="1685" y="1183" width="7" height="41"/>
<rect x="1775" y="1144" width="7" height="80"/>
<rect x="1865" y="1183" width="7" height="41"/>
<rect x="1955" y="1183" width="7" height="41"/>
<rect x="2045" y="1183" width="7" height="41"/>
<rect x="2134" y="1144" width="7" height="80"/>
<rect x="2224" y="1183" width="7" height="41"/>
<rect x="2314" y="1183" width="7" height="41"/>
<rect x="2404" y="1183" width="7" height="41"/>
<rect x="2494" y="1144" width="7" height="80"/>
<rect x="2584" y="1183" width="7" height="41"/>
<rect x="2674" y="1183" width="7" height="41"/>
<rect x="2764" y="1183" width="7" height="41"/>
<rect x="2854" y="1144" width="7" height="80"/>
<rect x="2943" y="1183" width="7" height="41"/>
<rect x="3033" y="1183" width="7" height="41"/>
<rect x="3123" y="1183" width="7" height="41"/>
<rect x="3213" y="1144" width="7" height="80"/>
<rect x="3303" y="1183" width="7" height="41"/>
<rect x="3393" y="1183" width="7" height="41"/>
<rect x="3483" y="1183" width="7" height="41"/>
<rect x="3572" y="1144" width="7" height="80"/>
<rect x="3662" y="1183" width="7" height="41"/>
<rect x="3752" y="1183" width="7" height="41"/>
<rect x="3842" y="1183" width="7" height="41"/>
<rect x="3932" y="1144" width="7" height="80"/>
<rect x="4022" y="1183" width="7" height="41"/>
<rect x="4112" y="1183" width="7" height="41"/>
<rect x="4202" y="1183" width="7" height="41"/>
<rect x="4292" y="1144" width="7" height="80"/>
<rect x="4381" y="1183" width="7" height="41"/>
<rect x="4471" y="1183" width="7" height="41"/>
<rect x="4561" y="1183" width="7" height="41"/>
<rect x="4651" y="1144" width="7" height="80"/>
</g>
<g class="dj" fill="#000">
<g font-size="66.67" text-anchor="end">
<text x="307.3" y="167.9">12.1</text>
<text x="307.3" y="303">10.6</text>
<text x="307.3" y="438.1">9.14</text>
<text x="307.3" y="573.2">7.65</text>
<text x="307.3" y="708.4">6.15</text>
<text x="307.3" y="843.5">4.65</text>
<text x="307.3" y="978.6">3.16</text>
<text x="307.3" y="1113.7">1.66</text>
<text x="307.3" y="1248.8">0.16</text>
</g>
<g font-size="75" text-anchor="middle">
<text x="340.5" y="1304.2">0</text>
<text x="700" y="1304.2">2</text>
<text x="1059.5" y="1304.2">4</text>
<text x="1419" y="1304.2">6</text>
<text x="1778.5" y="1304.2">8</text>
<text x="2138" y="1304.2">10</text>
<text x="2497.5" y="1304.2">12</text>
<text x="2857" y="1304.2">14</text>
<text x="3216.5" y="1304.2">16</text>
<text x="3576" y="1304.2">18</text>
<text x="3935.5" y="1304.2">20</text>
<text x="4295" y="1304.2">22</text>
<text x="4654.5" y="1304.2">24</text>
<text x="2497.5" y="1383.8" letter-spacing="0.85">Time (UTC)</text>
</g>
<text font-size="67.1" text-anchor="middle" transform="translate(110 682.4) rotate(-90)">Height AMSL (km)</text>
</g>
<text class="lb" font-size="100.7" text-anchor="middle" x="2497.2" y="98.9">Palaiseau: 2025/10/30</text>
<rect x="340.5" y="1462.5" width="4314" height="73" fill="url(#cb)"/>
<g fill="#000" shape-rendering="crispEdges">
<rect x="337" y="1532" width="4321" height="7"/>
<rect x="337" y="1514" width="7" height="21"/>
<rect x="481" y="1523" width="7" height="12"/>
<rect x="625" y="1523" width="7" height="12"/>
<rect x="768" y="1523" width="7" height="12"/>
<rect x="912" y="1523" width="7" height="12"/>
<rect x="1056" y="1523" width="7" height="12"/>
<rect x="1200" y="1523" width="7" height="12"/>
<rect x="1344" y="1523" width="7" height="12"/>
<rect x="1487" y="1523" width="7" height="12"/>
<rect x="1631" y="1523" width="7" height="12"/>
<rect x="1775" y="1514" width="7" height="21"/>
<rect x="1919" y="1523" width="7" height="12"/>
<rect x="2063" y="1523" width="7" height="12"/>
<rect x="2206" y="1523" width="7" height="12"/>
<rect x="2350" y="1523" width="7" height="12"/>
<rect x="2494" y="1523" width="7" height="12"/>
<rect x="2638" y="1523" width="7" height="12"/>
<rect x="2782" y="1523" width="7" height="12"/>
<rect x="2925" y="1523" width="7" height="12"/>
<rect x="3069" y="1523" width="7" height="12"/>
<rect x="3213" y="1514" width="7" height="21"/>
<rect x="3357" y="1523" width="7" height="12"/>
<rect x="3501" y="1523" width="7" height="12"/>
<rect x="3644" y="1523" width="7" height="12"/>
<rect x="3788" y="1523" width="7" height="12"/>
<rect x="3932" y="1523" width="7" height="12"/>
<rect x="4076" y="1523" width="7" height="12"/>
<rect x="4220" y="1523" width="7" height="12"/>
<rect x="4363" y="1523" width="7" height="12"/>
<rect x="4507" y="1523" width="7" height="12"/>
<rect x="4651" y="1514" width="7" height="21"/>
</g>
<g class="dj" font-size="58.33" text-anchor="middle" fill="#000">
<text x="331.3" y="1598.4" letter-spacing="0.45">Clear</text>
<text x="1780.2" y="1595.9" letter-spacing="1.3">Water</text>
<text x="3216.5" y="1596.1" letter-spacing="0.5">Ice</text>
<text x="4654.2" y="1598.1" letter-spacing="0.75">Other</text>
</g>
<g fill="none" stroke="#000" stroke-width="7" shape-rendering="crispEdges">
<rect x="524.5" y="1680" width="627" height="260.5"/>
<rect x="1469.5" y="1680" width="594" height="260.5"/>
<rect x="3108.5" y="1680" width="586" height="448"/>
</g>
<circle cx="572" cy="1762.3" r="21" fill="#32cd32"/>
<circle cx="572" cy="1857" r="17.7" fill="#fff" stroke="#32cd32" stroke-width="6.6"/>
<circle cx="1517.4" cy="1762.3" r="21" fill="#00f"/>
<circle cx="1517.4" cy="1857" r="17.7" fill="#fff" stroke="#00f" stroke-width="6.6"/>
<g shape-rendering="crispEdges">
<path fill="#f00" d="M3157 1737.9L3135.3 1774.9L3178.7 1774.9Z"/>
<path fill="#f00" d="M3157 1880.9L3135.3 1843.9L3178.7 1843.9Z"/>
<path fill="#f00" d="M3157 1927L3135.3 1964L3178.7 1964Z"/>
<path fill="#fff" d="M3157 1941L3147.7 1956.8L3166.3 1956.8Z"/>
<path fill="#f00" d="M3157 2069.8L3135.3 2033L3178.7 2033Z"/>
<path fill="#fff" d="M3157 2056L3147.7 2040.3L3166.3 2040.3Z"/>
</g>
<g class="dj" font-size="58.33" fill="#000" letter-spacing="0.2">
<text x="619.5" y="1784.5">SEV-OCA SL Wat</text>
<text x="619.5" y="1878.8">SEV-OCA 2L Wat</text>
<text x="1564.6" y="1784.5">SEV-OCA SL Ice</text>
<text x="1564.6" y="1878.8">SEV-OCA 2L Ice</text>
<text x="3205.4" y="1784.6">ACTRIS CBH</text>
<text x="3205.4" y="1878.8">ACTRIS CTH</text>
<text x="3205.4" y="1973.5">ACTRIS CBH BL</text>
<text x="3205.4" y="2067.7">ACTRIS CTH BL</text>
</g>
</svg></body></html>
